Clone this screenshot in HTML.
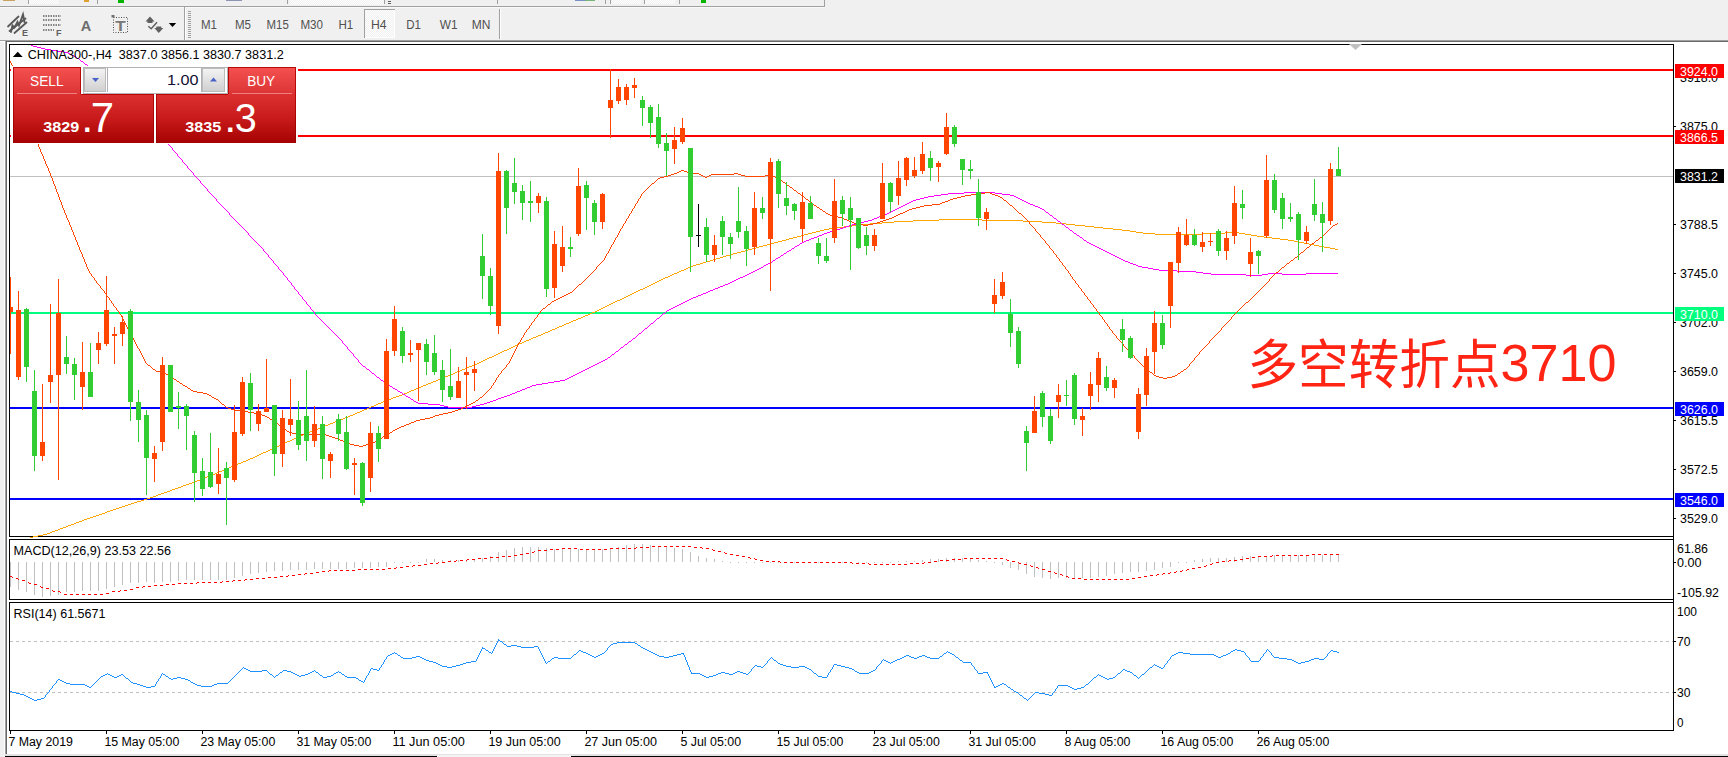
<!DOCTYPE html>
<html lang="zh"><head><meta charset="utf-8"><title>CHINA300-,H4</title>
<style>
html,body{margin:0;padding:0;}
body{width:1728px;height:757px;overflow:hidden;background:#f0f0f0;position:relative;font-family:"Liberation Sans", sans-serif;}
svg{position:absolute;left:0;top:0;display:block;}
.ax{font-size:12px;fill:#000;}
.tb{font-size:12px;fill:#505050;}
.lb{font-size:12px;fill:#fff;}
</style></head><body>
<svg width="1728" height="757" viewBox="0 0 1728 757" font-family='"Liberation Sans", sans-serif'>
<defs>
<linearGradient id="gt" x1="0" y1="0" x2="0" y2="1"><stop offset="0" stop-color="#f45050"/><stop offset="1" stop-color="#dc3434"/></linearGradient>
<linearGradient id="gm" x1="0" y1="0" x2="0" y2="1"><stop offset="0" stop-color="#dc3030"/><stop offset="0.5" stop-color="#c81a1a"/><stop offset="1" stop-color="#a60202"/></linearGradient>
<linearGradient id="gd" x1="0" y1="0" x2="0" y2="1"><stop offset="0" stop-color="#b80808"/><stop offset="1" stop-color="#980000"/></linearGradient>
<linearGradient id="gb" x1="0" y1="0" x2="0" y2="1"><stop offset="0" stop-color="#f4f4f4"/><stop offset="1" stop-color="#cfcfcf"/></linearGradient>
<pattern id="dots" width="2" height="2" patternUnits="userSpaceOnUse"><rect width="2" height="2" fill="#f0f0f0"/><rect width="1" height="1" fill="#fff"/><rect x="1" y="1" width="1" height="1" fill="#fff"/></pattern>
</defs>
<g shape-rendering="crispEdges">
<rect x="0" y="0" width="1728" height="757" fill="#f0f0f0"/>
<rect x="0" y="6" width="825" height="1" fill="#a0a0a0"/>
<rect x="824" y="0" width="1" height="7" fill="#a0a0a0"/>
<rect x="0" y="7" width="825" height="1" fill="#ffffff" opacity="0.6"/>
<rect x="28" y="0" width="1" height="4" fill="#a0a0a0"/>
<rect x="97" y="0" width="1" height="4" fill="#a0a0a0"/>
<rect x="287" y="0" width="1" height="4" fill="#a0a0a0"/>
<rect x="384" y="0" width="1" height="4" fill="#a0a0a0"/>
<rect x="497" y="0" width="1" height="4" fill="#a0a0a0"/>
<rect x="605" y="0" width="1" height="4" fill="#a0a0a0"/>
<rect x="610" y="0" width="1" height="4" fill="#a0a0a0"/>
<rect x="644" y="0" width="1" height="4" fill="#a0a0a0"/>
<rect x="679" y="0" width="1" height="4" fill="#a0a0a0"/>
<rect x="29" y="0" width="30" height="4" fill="url(#dots)"/>
<rect x="290" y="0" width="94" height="5" fill="url(#dots)"/>
<rect x="611" y="0" width="30" height="4" fill="url(#dots)"/>
<rect x="645" y="0" width="30" height="4" fill="url(#dots)"/>
<rect x="118" y="0" width="6" height="3" fill="#00b400"/>
<rect x="701" y="0" width="5" height="3" fill="#00b400"/>
<rect x="84" y="0" width="5" height="2" fill="#e0a030"/>
<rect x="3" y="0" width="12" height="1" fill="#c8a060"/>
<rect x="226" y="0" width="16" height="1" fill="#8c96b4"/>
<rect x="575" y="0" width="10" height="1" fill="#7890c8"/><rect x="585" y="0" width="10" height="1" fill="#78b478"/>
<rect x="388" y="1" width="3" height="1" fill="#606060"/><rect x="388" y="3" width="3" height="1" fill="#606060"/>
<rect x="184" y="7" width="1" height="33" fill="#a0a0a0"/><rect x="185" y="8" width="1" height="32" fill="#ffffff"/>
<rect x="188" y="11" width="3" height="1" fill="#a0a0a0"/>
<rect x="188" y="13" width="3" height="1" fill="#a0a0a0"/>
<rect x="188" y="15" width="3" height="1" fill="#a0a0a0"/>
<rect x="188" y="17" width="3" height="1" fill="#a0a0a0"/>
<rect x="188" y="19" width="3" height="1" fill="#a0a0a0"/>
<rect x="188" y="21" width="3" height="1" fill="#a0a0a0"/>
<rect x="188" y="23" width="3" height="1" fill="#a0a0a0"/>
<rect x="188" y="25" width="3" height="1" fill="#a0a0a0"/>
<rect x="188" y="27" width="3" height="1" fill="#a0a0a0"/>
<rect x="188" y="29" width="3" height="1" fill="#a0a0a0"/>
<rect x="188" y="31" width="3" height="1" fill="#a0a0a0"/>
<rect x="188" y="33" width="3" height="1" fill="#a0a0a0"/>
<rect x="188" y="35" width="3" height="1" fill="#a0a0a0"/>
<rect x="188" y="37" width="3" height="1" fill="#a0a0a0"/>
<rect x="499" y="9" width="1" height="30" fill="#a0a0a0"/><rect x="500" y="9" width="1" height="30" fill="#ffffff"/>
<rect x="364" y="9" width="31" height="29" fill="url(#dots)"/>
<rect x="364" y="9" width="31" height="1" fill="#a0a0a0"/><rect x="364" y="9" width="1" height="29" fill="#a0a0a0"/>
<rect x="394" y="10" width="1" height="28" fill="#ffffff"/><rect x="365" y="37" width="30" height="1" fill="#ffffff"/>
<rect x="0" y="40" width="1728" height="1" fill="#a0a0a0"/>
<rect x="0" y="41" width="5" height="1" fill="#ffffff"/>
<rect x="4" y="41" width="1" height="713" fill="#ffffff"/>
<rect x="5" y="40" width="1723" height="717" fill="#a0a0a0"/>
<rect x="6" y="41" width="1722" height="716" fill="#696969"/>
<rect x="7" y="42" width="1721" height="712" fill="#ffffff"/>
<rect x="5" y="754" width="1723" height="2" fill="#e3e3e3"/>
<rect x="5" y="756" width="1723" height="1" fill="#000000"/>
<rect x="437" y="755" width="134" height="2" fill="#f4f4f4"/>
<rect x="0" y="754" width="5" height="3" fill="#f0f0f0"/>
</g>
<g fill="none" stroke="#606060" stroke-width="1.6" stroke-linecap="round">
<path stroke="#585858" stroke-width="1.8" d="M8 26.5 L18.5 16.5 M9.5 31 L25.5 18.5 M14.5 33 L26.5 22.5"/>
<path stroke="#585858" stroke-width="1.9" d="M11 32 L12.5 25.5 L14.5 27.5 L17.5 22 L19 25.5 L23 14.5 L24.5 22"/>
</g>
<text x="22" y="36" font-size="9" font-weight="bold" fill="#606060">E</text>
<g stroke="#606060" stroke-width="1.6" stroke-dasharray="1.5 1" fill="none">
<path d="M43 16 H61 M43 20 H61 M43 25 H61 M43 30 H54"/></g>
<text x="56" y="36" font-size="9" font-weight="bold" fill="#606060">F</text>
<text x="80.7" y="30.5" font-size="15.5" font-weight="bold" fill="#6c6c6c" textLength="10.5" lengthAdjust="spacingAndGlyphs">A</text>
<rect x="113.5" y="17.5" width="14" height="15" fill="none" stroke="#505050" stroke-width="1" stroke-dasharray="1 1.5"/>
<text x="115.2" y="30.6" font-size="15" font-weight="bold" fill="#787878" textLength="10.5" lengthAdjust="spacingAndGlyphs">T</text>
<rect x="111.5" y="15" width="3" height="2.5" fill="#707070"/>
<g fill="#606060"><path d="M150 16.5 L154.5 21.5 H152.5 V23 H147.5 V21.5 H145.5 Z"/><path d="M158.8 33 L154.3 28 H156.3 V26.5 H161.3 V28 H163.3 Z"/>
<path d="M148.3 26.2 L151.2 28.7 L157 22.2" fill="none" stroke="#606060" stroke-width="1.5"/></g>
<path d="M168.8 23 H176.2 L172.5 27 Z" fill="#000"/>
<text class="tb" x="201.0" y="29" textLength="16.0" lengthAdjust="spacingAndGlyphs">M1</text>
<text class="tb" x="235.0" y="29" textLength="16.0" lengthAdjust="spacingAndGlyphs">M5</text>
<text class="tb" x="266.6" y="29" textLength="22.2" lengthAdjust="spacingAndGlyphs">M15</text>
<text class="tb" x="300.4" y="29" textLength="22.6" lengthAdjust="spacingAndGlyphs">M30</text>
<text class="tb" x="338.4" y="29" textLength="14.8" lengthAdjust="spacingAndGlyphs">H1</text>
<text class="tb" x="371.0" y="29" textLength="15.6" lengthAdjust="spacingAndGlyphs">H4</text>
<text class="tb" x="406.3" y="29" textLength="14.7" lengthAdjust="spacingAndGlyphs">D1</text>
<text class="tb" x="439.7" y="29" textLength="17.8" lengthAdjust="spacingAndGlyphs">W1</text>
<text class="tb" x="471.8" y="29" textLength="18.7" lengthAdjust="spacingAndGlyphs">MN</text>
<g shape-rendering="crispEdges">
<rect x="9" y="44" width="1665" height="1" fill="#000"/>
<rect x="9" y="536" width="1665" height="1" fill="#000"/>
<rect x="9" y="539" width="1665" height="1" fill="#000"/>
<rect x="9" y="599" width="1665" height="1" fill="#000"/>
<rect x="9" y="602" width="1665" height="1" fill="#000"/>
<rect x="9" y="730" width="1665" height="1" fill="#000"/>
<rect x="9" y="44" width="1" height="493" fill="#000"/>
<rect x="9" y="539" width="1" height="61" fill="#000"/>
<rect x="9" y="602" width="1" height="129" fill="#000"/>
<rect x="1673" y="44" width="1" height="687" fill="#000"/>
<rect x="10" y="731" width="1" height="3" fill="#000"/>
<rect x="106" y="731" width="1" height="3" fill="#000"/>
<rect x="202" y="731" width="1" height="3" fill="#000"/>
<rect x="298" y="731" width="1" height="3" fill="#000"/>
<rect x="394" y="731" width="1" height="3" fill="#000"/>
<rect x="490" y="731" width="1" height="3" fill="#000"/>
<rect x="586" y="731" width="1" height="3" fill="#000"/>
<rect x="682" y="731" width="1" height="3" fill="#000"/>
<rect x="778" y="731" width="1" height="3" fill="#000"/>
<rect x="874" y="731" width="1" height="3" fill="#000"/>
<rect x="970" y="731" width="1" height="3" fill="#000"/>
<rect x="1066" y="731" width="1" height="3" fill="#000"/>
<rect x="1162" y="731" width="1" height="3" fill="#000"/>
<rect x="1258" y="731" width="1" height="3" fill="#000"/>
<rect x="1674" y="126" width="2" height="1" fill="#000"/>
<rect x="1674" y="224" width="2" height="1" fill="#000"/>
<rect x="1674" y="273" width="2" height="1" fill="#000"/>
<rect x="1674" y="322" width="2" height="1" fill="#000"/>
<rect x="1674" y="371" width="2" height="1" fill="#000"/>
<rect x="1674" y="420" width="2" height="1" fill="#000"/>
<rect x="1674" y="469" width="2" height="1" fill="#000"/>
<rect x="1674" y="518" width="2" height="1" fill="#000"/>
<rect x="1674" y="562" width="2" height="1" fill="#000"/>
<rect x="1674" y="641" width="2" height="1" fill="#000"/>
<rect x="1674" y="692" width="2" height="1" fill="#000"/>
<rect x="10" y="176" width="1663" height="1" fill="#c0c0c0"/>
<rect x="10" y="69" width="1663" height="2" fill="#ff0000"/>
<rect x="10" y="135" width="1663" height="2" fill="#ff0000"/>
<rect x="10" y="312" width="1663" height="2" fill="#00ff7f"/>
<rect x="10" y="407" width="1663" height="2" fill="#0000ff"/>
<rect x="10" y="498" width="1663" height="2" fill="#0000ff"/>
</g>
<g shape-rendering="crispEdges" stroke="#c0c0c0" stroke-width="1" stroke-dasharray="3 3" fill="none">
<path d="M10 641.5 H1673 M10 692.5 H1673"/></g>
<path d="M1349 44 H1362 L1355.5 50 Z" fill="#c0c0c0"/>
<g shape-rendering="crispEdges">
<path fill="#FFA500" d="M693 265h3v1h-3zM812 232h4v1h-4zM1136 232h7v1h-7zM1225 232h14v1h-14zM462 369h3v1h-3zM894 221h19v1h-19zM1023 221h19v1h-19zM110 510h3v1h-3zM913 220h26v1h-26zM982 220h41v1h-41zM433 381h3v1h-3zM229 467h2v1h-2zM371 406h3v1h-3zM659 280h2v1h-2zM759 246h4v1h-4zM1319 246h5v1h-5zM860 224h10v1h-10zM1066 224h9v1h-9zM808 233h4v1h-4zM1143 233h12v1h-12zM1202 233h23v1h-23zM1239 233h6v1h-6zM748 249h4v1h-4zM1335 249h3v1h-3zM167 491h3v1h-3zM402 394h2v1h-2zM543 333h2v1h-2zM340 419h3v1h-3zM310 431h3v1h-3zM279 445h2v1h-2zM68 525h3v1h-3zM829 228h8v1h-8zM1103 228h10v1h-10zM483 360h2v1h-2zM679 271h2v1h-2zM939 219h43v1h-43zM156 495h2v1h-2zM533 337h3v1h-3zM330 423h3v1h-3zM737 252h4v1h-4zM613 302h2v1h-2zM804 234h4v1h-4zM1155 234h47v1h-47zM1245 234h6v1h-6zM789 238h4v1h-4zM1272 238h8v1h-8zM231 466h3v1h-3zM200 479h3v1h-3zM632 293h2v1h-2zM852 225h8v1h-8zM1075 225h10v1h-10zM281 444h2v1h-2zM455 372h2v1h-2zM102 513h3v1h-3zM485 359h2v1h-2zM628 295h2v1h-2zM681 270h3v1h-3zM423 385h3v1h-3zM713 259h3v1h-3zM362 410h2v1h-2zM651 284h2v1h-2zM824 229h5v1h-5zM1113 229h9v1h-9zM778 241h4v1h-4zM1294 241h5v1h-5zM393 397h3v1h-3zM217 472h2v1h-2zM248 459h2v1h-2zM504 350h3v1h-3zM58 529h2v1h-2zM357 412h3v1h-3zM388 399h3v1h-3zM300 435h3v1h-3zM90 517h3v1h-3zM555 328h2v1h-2zM585 315h3v1h-3zM147 498h3v1h-3zM696 264h4v1h-4zM726 255h4v1h-4zM550 330h2v1h-2zM793 237h4v1h-4zM1264 237h8v1h-8zM581 317h2v1h-2zM605 306h2v1h-2zM820 230h4v1h-4zM1122 230h8v1h-8zM601 308h2v1h-2zM716 258h4v1h-4zM131 503h3v1h-3zM192 482h3v1h-3zM882 222h12v1h-12zM1042 222h14v1h-14zM710 260h3v1h-3zM774 242h4v1h-4zM1299 242h5v1h-5zM93 516h3v1h-3zM837 227h7v1h-7zM1094 227h9v1h-9zM87 518h3v1h-3zM411 390h3v1h-3zM207 476h3v1h-3zM350 415h3v1h-3zM381 402h2v1h-2zM816 231h4v1h-4zM1130 231h6v1h-6zM522 342h2v1h-2zM50 532h2v1h-2zM492 356h2v1h-2zM76 522h3v1h-3zM688 267h2v1h-2zM782 240h4v1h-4zM1288 240h6v1h-6zM573 320h3v1h-3zM38 535h5v1h-5zM844 226h8v1h-8zM1085 226h9v1h-9zM771 243h3v1h-3zM1304 243h5v1h-5zM622 298h2v1h-2zM122 506h3v1h-3zM592 312h3v1h-3zM210 475h2v1h-2zM797 236h4v1h-4zM1257 236h7v1h-7zM640 289h3v1h-3zM730 254h3v1h-3zM79 521h3v1h-3zM261 453h2v1h-2zM465 368h2v1h-2zM756 247h3v1h-3zM1324 247h6v1h-6zM661 279h2v1h-2zM428 383h3v1h-3zM460 370h2v1h-2zM195 481h2v1h-2zM305 433h3v1h-3zM595 311h2v1h-2zM153 496h3v1h-3zM529 339h2v1h-2zM870 223h12v1h-12zM1056 223h10v1h-10zM559 326h3v1h-3zM113 509h3v1h-3zM609 304h2v1h-2zM752 248h4v1h-4zM1330 248h5v1h-5zM404 393h3v1h-3zM197 480h3v1h-3zM720 257h3v1h-3zM421 386h2v1h-2zM186 484h3v1h-3zM531 338h2v1h-2zM328 424h2v1h-2zM60 528h3v1h-3zM360 411h2v1h-2zM649 285h2v1h-2zM733 253h4v1h-4zM298 436h2v1h-2zM801 235h3v1h-3zM1251 235h6v1h-6zM502 351h2v1h-2zM55 530h3v1h-3zM472 365h2v1h-2zM144 499h3v1h-3zM668 276h2v1h-2zM318 428h2v1h-2zM552 329h3v1h-3zM99 514h3v1h-3zM219 471h3v1h-3zM270 449h2v1h-2zM474 364h3v1h-3zM700 263h3v1h-3zM670 275h2v1h-2zM178 487h3v1h-3zM767 244h4v1h-4zM1309 244h5v1h-5zM443 377h2v1h-2zM205 477h2v1h-2zM320 427h3v1h-3zM236 464h2v1h-2zM47 533h3v1h-3zM290 440h2v1h-2zM134 502h3v1h-3zM690 266h3v1h-3zM33 536h5v1h-5zM538 335h3v1h-3zM569 322h2v1h-2zM509 348h2v1h-2zM107 511h3v1h-3zM257 455h2v1h-2zM164 492h3v1h-3zM399 395h3v1h-3zM338 420h2v1h-2zM431 382h2v1h-2zM369 407h2v1h-2zM657 281h2v1h-2zM511 347h2v1h-2zM745 250h3v1h-3zM677 272h2v1h-2zM611 303h2v1h-2zM630 294h2v1h-2zM453 373h2v1h-2zM391 398h2v1h-2zM448 375h2v1h-2zM294 438h2v1h-2zM583 316h2v1h-2zM498 353h2v1h-2zM376 404h2v1h-2zM517 344h2v1h-2zM43 534h4v1h-4zM548 331h2v1h-2zM250 458h3v1h-3zM647 286h2v1h-2zM617 300h3v1h-3zM266 451h2v1h-2zM786 239h3v1h-3zM1280 239h8v1h-8zM469 366h3v1h-3zM409 391h2v1h-2zM440 378h3v1h-3zM378 403h3v1h-3zM665 277h3v1h-3zM519 343h3v1h-3zM315 429h3v1h-3zM348 416h2v1h-2zM74 523h2v1h-2zM763 245h4v1h-4zM1314 245h5v1h-5zM620 299h2v1h-2zM119 507h3v1h-3zM238 463h3v1h-3zM638 290h2v1h-2zM287 441h3v1h-3zM308 432h2v1h-2zM224 469h2v1h-2zM66 526h2v1h-2zM274 447h2v1h-2zM562 325h2v1h-2zM557 327h2v1h-2zM723 256h3v1h-3zM607 305h2v1h-2zM626 296h2v1h-2zM479 362h2v1h-2zM246 460h2v1h-2zM183 485h3v1h-3zM325 425h3v1h-3zM419 387h2v1h-2zM706 261h4v1h-4zM578 318h3v1h-3zM128 504h3v1h-3zM450 374h3v1h-3zM599 309h2v1h-2zM30 537h3v1h-3zM175 488h3v1h-3zM268 450h2v1h-2zM313 430h2v1h-2zM571 321h2v1h-2zM487 358h2v1h-2zM541 334h2v1h-2zM536 336h2v1h-2zM259 454h2v1h-2zM255 456h2v1h-2zM457 371h3v1h-3zM396 396h3v1h-3zM741 251h4v1h-4zM335 421h3v1h-3zM588 314h2v1h-2zM674 273h3v1h-3zM226 468h3v1h-3zM276 446h3v1h-3zM96 515h3v1h-3zM481 361h2v1h-2zM296 437h2v1h-2zM500 352h2v1h-2zM52 531h3v1h-3zM141 500h3v1h-3zM576 319h2v1h-2zM125 505h3v1h-3zM467 367h2v1h-2zM234 465h2v1h-2zM263 452h3v1h-3zM172 489h3v1h-3zM407 392h2v1h-2zM345 417h3v1h-3zM283 443h2v1h-2zM684 269h2v1h-2zM566 323h3v1h-3zM161 493h3v1h-3zM116 508h3v1h-3zM636 291h2v1h-2zM285 442h2v1h-2zM489 357h3v1h-3zM686 268h2v1h-2zM367 408h2v1h-2zM655 282h2v1h-2zM63 527h3v1h-3zM590 313h2v1h-2zM524 341h2v1h-2zM445 376h3v1h-3zM477 363h2v1h-2zM416 388h3v1h-3zM703 262h3v1h-3zM212 474h3v1h-3zM385 400h3v1h-3zM181 486h2v1h-2zM323 426h2v1h-2zM496 354h2v1h-2zM82 520h2v1h-2zM137 501h4v1h-4zM663 278h2v1h-2zM545 332h3v1h-3zM597 310h2v1h-2zM215 473h2v1h-2zM645 287h2v1h-2zM438 379h2v1h-2zM564 324h2v1h-2zM253 457h2v1h-2zM158 494h3v1h-3zM333 422h2v1h-2zM364 409h3v1h-3zM653 283h2v1h-2zM272 448h2v1h-2zM672 274h2v1h-2zM355 413h2v1h-2zM150 497h3v1h-3zM526 340h3v1h-3zM513 346h2v1h-2zM84 519h3v1h-3zM615 301h2v1h-2zM203 478h2v1h-2zM634 292h2v1h-2zM426 384h2v1h-2zM303 434h2v1h-2zM507 349h2v1h-2zM105 512h2v1h-2zM603 307h2v1h-2zM241 462h2v1h-2zM494 355h2v1h-2zM243 461h3v1h-3zM643 288h2v1h-2zM292 439h2v1h-2zM170 490h2v1h-2zM343 418h2v1h-2zM436 380h2v1h-2zM374 405h2v1h-2zM515 345h2v1h-2zM71 524h3v1h-3zM189 483h3v1h-3zM222 470h2v1h-2zM414 389h2v1h-2zM383 401h2v1h-2zM353 414h2v1h-2zM624 297h2v1h-2z"/>
<path fill="#FF00FF" d="M889 212h2v1h-2zM1046 212h2v1h-2zM948 193h16v1h-16zM995 193h7v1h-7zM747 274h2v1h-2zM1211 274h35v1h-35zM1262 274h6v1h-6zM1282 274h24v1h-24zM512 393h3v1h-3zM403 394h2v1h-2zM510 394h2v1h-2zM681 303h2v1h-2zM822 234h2v1h-2zM589 367h2v1h-2zM768 263h2v1h-2zM1130 263h3v1h-3zM909 202h2v1h-2zM1026 202h2v1h-2zM885 214h2v1h-2zM587 368h2v1h-2zM789 250h2v1h-2zM1103 250h2v1h-2zM377 377h2v1h-2zM569 377h2v1h-2zM400 392h2v1h-2zM515 392h2v1h-2zM701 294h2v1h-2zM1107 252h2v1h-2zM732 281h2v1h-2zM1125 261h3v1h-3zM751 272h2v1h-2zM1196 272h7v1h-7zM428 404h12v1h-12zM480 404h4v1h-4zM107 85h2v1h-2zM77 58h2v1h-2zM70 54h2v1h-2zM911 201h2v1h-2zM1024 201h2v1h-2zM924 197h4v1h-4zM1016 197h2v1h-2zM406 396h2v1h-2zM504 396h3v1h-3zM749 273h2v1h-2zM1203 273h8v1h-8zM1268 273h14v1h-14zM1306 273h32v1h-32zM593 365h2v1h-2zM824 233h3v1h-3zM1074 233h2v1h-2zM770 262h2v1h-2zM1128 262h2v1h-2zM390 386h2v1h-2zM530 386h2v1h-2zM1097 247h2v1h-2zM448 407h24v1h-24zM903 205h2v1h-2zM1033 205h2v1h-2zM398 391h2v1h-2zM517 391h3v1h-3zM595 364h2v1h-2zM860 222h4v1h-4zM31 45h2v1h-2zM882 215h3v1h-3zM1050 215h2v1h-2zM608 357h2v1h-2zM1091 244h2v1h-2zM877 217h2v1h-2zM901 206h2v1h-2zM1035 206h3v1h-3zM809 239h2v1h-2zM920 198h4v1h-4zM1018 198h2v1h-2zM766 264h2v1h-2zM1133 264h3v1h-3zM669 309h2v1h-2zM718 287h2v1h-2zM897 208h2v1h-2zM1040 208h2v1h-2zM753 271h2v1h-2zM1177 271h19v1h-19zM703 293h3v1h-3zM629 341h2v1h-2zM411 399h2v1h-2zM496 399h2v1h-2zM797 245h2v1h-2zM1093 245h2v1h-2zM385 383h2v1h-2zM542 383h6v1h-6zM414 401h2v1h-2zM490 401h3v1h-3zM738 278h2v1h-2zM548 382h6v1h-6zM581 371h2v1h-2zM814 237h3v1h-3zM1080 237h2v1h-2zM843 227h3v1h-3zM1066 227h2v1h-2zM764 265h2v1h-2zM1136 265h2v1h-2zM899 207h2v1h-2zM1038 207h2v1h-2zM928 196h6v1h-6zM1014 196h2v1h-2zM776 258h2v1h-2zM1119 258h2v1h-2zM645 328h2v1h-2zM381 380h2v1h-2zM560 380h5v1h-5zM916 199h4v1h-4zM1020 199h2v1h-2zM393 388h2v1h-2zM525 388h2v1h-2zM408 397h2v1h-2zM501 397h3v1h-3zM493 400h3v1h-3zM856 223h4v1h-4zM740 277h3v1h-3zM710 290h3v1h-3zM583 370h2v1h-2zM745 275h2v1h-2zM1246 275h16v1h-16zM852 224h4v1h-4zM1062 224h2v1h-2zM757 269h2v1h-2zM1153 269h6v1h-6zM964 192h31v1h-31zM795 246h2v1h-2zM1095 246h2v1h-2zM601 361h2v1h-2zM625 344h2v1h-2zM907 203h2v1h-2zM1028 203h2v1h-2zM833 230h3v1h-3zM1070 230h2v1h-2zM708 291h2v1h-2zM68 53h2v1h-2zM663 313h2v1h-2zM802 242h2v1h-2zM1087 242h2v1h-2zM891 211h2v1h-2zM51 50h6v1h-6zM395 389h2v1h-2zM522 389h3v1h-3zM887 213h2v1h-2zM633 338h2v1h-2zM1138 266h4v1h-4zM1111 254h2v1h-2zM728 283h2v1h-2zM761 267h2v1h-2zM1142 267h6v1h-6zM773 260h2v1h-2zM1123 260h2v1h-2zM571 376h2v1h-2zM527 387h3v1h-3zM819 235h3v1h-3zM1077 235h2v1h-2zM372 373h2v1h-2zM577 373h2v1h-2zM573 375h2v1h-2zM532 385h4v1h-4zM706 292h2v1h-2zM689 299h2v1h-2zM720 286h3v1h-3zM363 366h2v1h-2zM591 366h2v1h-2zM755 270h2v1h-2zM1159 270h18v1h-18zM792 248h2v1h-2zM1099 248h2v1h-2zM45 49h6v1h-6zM621 347h2v1h-2zM804 241h2v1h-2zM554 381h6v1h-6zM444 406h4v1h-4zM472 406h4v1h-4zM806 240h3v1h-3zM1084 240h2v1h-2zM811 238h3v1h-3zM759 268h2v1h-2zM1148 268h5v1h-5zM868 220h4v1h-4zM657 318h2v1h-2zM941 194h7v1h-7zM1002 194h8v1h-8zM677 305h2v1h-2zM846 226h3v1h-3zM579 372h2v1h-2zM913 200h3v1h-3zM1022 200h2v1h-2zM698 295h3v1h-3zM599 362h2v1h-2zM696 296h2v1h-2zM1121 259h2v1h-2zM1115 256h2v1h-2zM872 219h2v1h-2zM800 243h2v1h-2zM1089 243h2v1h-2zM41 48h4v1h-4zM893 210h2v1h-2zM879 216h3v1h-3zM1101 249h2v1h-2zM671 308h2v1h-2zM667 310h2v1h-2zM387 384h2v1h-2zM536 384h6v1h-6zM715 288h3v1h-3zM639 333h2v1h-2zM616 351h2v1h-2zM565 379h2v1h-2zM864 221h4v1h-4zM1058 221h2v1h-2zM840 228h3v1h-3zM72 55h2v1h-2zM74 56h2v1h-2zM64 52h4v1h-4zM440 405h4v1h-4zM476 405h4v1h-4zM778 257h2v1h-2zM1117 257h2v1h-2zM934 195h7v1h-7zM1010 195h4v1h-4zM830 231h3v1h-3zM685 301h2v1h-2zM693 297h3v1h-3zM612 354h2v1h-2zM784 253h2v1h-2zM1109 253h2v1h-2zM57 51h7v1h-7zM418 403h10v1h-10zM484 403h3v1h-3zM498 398h3v1h-3zM874 218h3v1h-3zM1054 218h2v1h-2zM687 300h2v1h-2zM37 47h4v1h-4zM85 64h2v1h-2zM734 280h2v1h-2zM148 125h2v1h-2zM651 323h2v1h-2zM781 255h2v1h-2zM1113 255h2v1h-2zM787 251h2v1h-2zM1105 251h2v1h-2zM81 61h2v1h-2zM827 232h3v1h-3zM605 359h2v1h-2zM725 284h3v1h-3zM683 302h2v1h-2zM520 390h2v1h-2zM736 279h2v1h-2zM597 363h2v1h-2zM743 276h2v1h-2zM905 204h2v1h-2zM1030 204h3v1h-3zM895 209h2v1h-2zM1042 209h2v1h-2zM673 307h2v1h-2zM723 285h2v1h-2zM367 369h2v1h-2zM585 369h2v1h-2zM567 378h2v1h-2zM416 402h2v1h-2zM487 402h3v1h-3zM849 225h3v1h-3zM836 229h4v1h-4zM679 304h2v1h-2zM575 374h2v1h-2zM691 298h2v1h-2zM603 360h2v1h-2zM507 395h3v1h-3zM675 306h2v1h-2zM817 236h2v1h-2zM713 289h2v1h-2zM33 46h4v1h-4zM730 282h2v1h-2zM76 57h1v1h-1zM79 59h1v1h-1zM80 60h1v1h-1zM83 62h1v1h-1zM84 63h1v1h-1zM87 65h1v1h-1zM88 66h1v1h-1zM89 67h1v1h-1zM90 68h1v1h-1zM91 69h1v1h-1zM92 70h1v1h-1zM93 71h1v1h-1zM94 72h1v1h-1zM95 73h1v1h-1zM96 74h1v1h-1zM97 75h1v1h-1zM98 76h1v1h-1zM99 77h1v1h-1zM100 78h1v1h-1zM101 79h1v1h-1zM102 80h1v1h-1zM103 81h1v1h-1zM104 82h1v1h-1zM105 83h1v1h-1zM106 84h1v1h-1zM109 86h1v1h-1zM110 87h1v1h-1zM111 88h1v1h-1zM112 89h1v1h-1zM113 90h1v1h-1zM114 91h1v1h-1zM115 92h1v1h-1zM116 93h1v1h-1zM117 94h1v1h-1zM118 95h1v1h-1zM119 96h1v1h-1zM120 97h1v1h-1zM121 98h1v1h-1zM122 99h1v1h-1zM123 100h1v1h-1zM124 101h1v1h-1zM125 102h1v1h-1zM126 103h1v1h-1zM127 104h1v1h-1zM128 105h1v1h-1zM129 106h1v1h-1zM130 107h1v1h-1zM131 108h1v1h-1zM132 109h1v1h-1zM133 110h1v1h-1zM134 111h1v1h-1zM135 112h1v1h-1zM136 113h1v1h-1zM137 114h1v1h-1zM138 115h1v1h-1zM139 116h1v1h-1zM140 117h1v1h-1zM141 118h1v1h-1zM142 119h1v1h-1zM143 120h1v1h-1zM144 121h1v1h-1zM145 122h1v1h-1zM146 123h1v1h-1zM147 124h1v1h-1zM150 126h1v1h-1zM151 127h1v1h-1zM152 128h1v1h-1zM153 129h1v1h-1zM154 130h1v1h-1zM155 131h1v1h-1zM156 132h1v1h-1zM157 133h1v1h-1zM158 134h1v1h-1zM159 135h1v1h-1zM160 136h1v1h-1zM161 137h1v1h-1zM162 138h1v1h-1zM163 139h1v1h-1zM164 140h1v1h-1zM165 141h1v1h-1zM166 142h1v1h-1zM167 143h1v1h-1zM168 144h1v1h-1zM169 145h1v1h-1zM170 146h1v1h-1zM171 147h1v1h-1zM172 148h1v2h-1zM173 150h1v1h-1zM174 151h1v1h-1zM175 152h1v1h-1zM176 153h1v1h-1zM177 154h1v2h-1zM178 156h1v1h-1zM179 157h1v1h-1zM180 158h1v1h-1zM181 159h1v1h-1zM182 160h1v2h-1zM183 162h1v1h-1zM184 163h1v1h-1zM185 164h1v1h-1zM186 165h1v1h-1zM187 166h1v2h-1zM188 168h1v1h-1zM189 169h1v1h-1zM190 170h1v1h-1zM191 171h1v1h-1zM192 172h1v1h-1zM193 173h1v2h-1zM194 175h1v1h-1zM195 176h1v1h-1zM196 177h1v1h-1zM197 178h1v1h-1zM198 179h1v1h-1zM199 180h1v1h-1zM200 181h1v2h-1zM201 183h1v1h-1zM202 184h1v1h-1zM203 185h1v1h-1zM204 186h1v1h-1zM205 187h1v1h-1zM206 188h1v1h-1zM207 189h1v2h-1zM208 191h1v1h-1zM209 192h1v1h-1zM210 193h1v1h-1zM211 194h1v1h-1zM212 195h1v1h-1zM213 196h1v1h-1zM214 197h1v1h-1zM215 198h1v1h-1zM216 199h1v2h-1zM217 201h1v1h-1zM218 202h1v1h-1zM219 203h1v1h-1zM220 204h1v1h-1zM221 205h1v1h-1zM222 206h1v1h-1zM223 207h1v1h-1zM224 208h1v1h-1zM225 209h1v1h-1zM226 210h1v1h-1zM227 211h1v1h-1zM228 212h1v1h-1zM229 213h1v2h-1zM230 215h1v1h-1zM231 216h1v1h-1zM232 217h1v1h-1zM233 218h1v1h-1zM234 219h1v1h-1zM235 220h1v1h-1zM236 221h1v1h-1zM237 222h1v1h-1zM238 223h1v1h-1zM239 224h1v1h-1zM240 225h1v1h-1zM241 226h1v1h-1zM242 227h1v1h-1zM243 228h1v1h-1zM244 229h1v1h-1zM245 230h1v1h-1zM246 231h1v1h-1zM247 232h1v1h-1zM248 233h1v2h-1zM249 235h1v1h-1zM250 236h1v1h-1zM251 237h1v1h-1zM252 238h1v1h-1zM253 239h1v1h-1zM254 240h1v1h-1zM255 241h1v1h-1zM256 242h1v1h-1zM257 243h1v1h-1zM258 244h1v1h-1zM259 245h1v1h-1zM260 246h1v1h-1zM261 247h1v1h-1zM262 248h1v1h-1zM263 249h1v2h-1zM264 251h1v1h-1zM265 252h1v1h-1zM266 253h1v1h-1zM267 254h1v1h-1zM268 255h1v2h-1zM269 257h1v1h-1zM270 258h1v1h-1zM271 259h1v1h-1zM272 260h1v1h-1zM273 261h1v2h-1zM274 263h1v1h-1zM275 264h1v1h-1zM276 265h1v1h-1zM277 266h1v1h-1zM278 267h1v2h-1zM279 269h1v1h-1zM280 270h1v1h-1zM281 271h1v1h-1zM282 272h1v1h-1zM283 273h1v2h-1zM284 275h1v1h-1zM285 276h1v1h-1zM286 277h1v1h-1zM287 278h1v2h-1zM288 280h1v1h-1zM289 281h1v1h-1zM290 282h1v1h-1zM291 283h1v2h-1zM292 285h1v1h-1zM293 286h1v1h-1zM294 287h1v2h-1zM295 289h1v1h-1zM296 290h1v1h-1zM297 291h1v1h-1zM298 292h1v2h-1zM299 294h1v1h-1zM300 295h1v1h-1zM301 296h1v1h-1zM302 297h1v2h-1zM303 299h1v1h-1zM304 300h1v1h-1zM305 301h1v1h-1zM306 302h1v2h-1zM307 304h1v1h-1zM308 305h1v1h-1zM309 306h1v1h-1zM310 307h1v2h-1zM311 309h1v1h-1zM312 310h1v1h-1zM313 311h1v1h-1zM314 312h1v2h-1zM315 314h1v1h-1zM316 315h1v1h-1zM317 316h1v1h-1zM318 317h1v1h-1zM319 318h1v1h-1zM320 319h1v1h-1zM321 320h1v1h-1zM322 321h1v1h-1zM323 322h1v1h-1zM324 323h1v1h-1zM325 324h1v1h-1zM326 325h1v1h-1zM327 326h1v1h-1zM328 327h1v1h-1zM329 328h1v1h-1zM330 329h1v1h-1zM331 330h1v1h-1zM332 331h1v1h-1zM333 332h1v1h-1zM334 333h1v1h-1zM335 334h1v1h-1zM336 335h1v1h-1zM337 336h1v1h-1zM338 337h1v1h-1zM339 338h1v1h-1zM340 339h1v1h-1zM341 340h1v1h-1zM342 341h1v2h-1zM343 343h1v1h-1zM344 344h1v1h-1zM345 345h1v1h-1zM346 346h1v1h-1zM347 347h1v2h-1zM348 349h1v1h-1zM349 350h1v1h-1zM350 351h1v1h-1zM351 352h1v1h-1zM352 353h1v1h-1zM353 354h1v2h-1zM354 356h1v1h-1zM355 357h1v1h-1zM356 358h1v1h-1zM357 359h1v1h-1zM358 360h1v2h-1zM359 362h1v1h-1zM360 363h1v1h-1zM361 364h1v1h-1zM362 365h1v1h-1zM365 367h1v1h-1zM366 368h1v1h-1zM369 370h1v1h-1zM370 371h1v1h-1zM371 372h1v1h-1zM374 374h1v1h-1zM375 375h1v1h-1zM376 376h1v1h-1zM379 378h1v1h-1zM380 379h1v1h-1zM383 381h1v1h-1zM384 382h1v1h-1zM389 385h1v1h-1zM392 387h1v1h-1zM397 390h1v1h-1zM402 393h1v1h-1zM405 395h1v1h-1zM410 398h1v1h-1zM413 400h1v1h-1zM607 358h1v1h-1zM610 356h1v1h-1zM611 355h1v1h-1zM614 353h1v1h-1zM615 352h1v1h-1zM618 350h1v1h-1zM619 349h1v1h-1zM620 348h1v1h-1zM623 346h1v1h-1zM624 345h1v1h-1zM627 343h1v1h-1zM628 342h1v1h-1zM631 340h1v1h-1zM632 339h1v1h-1zM635 337h1v1h-1zM636 336h1v1h-1zM637 335h1v1h-1zM638 334h1v1h-1zM641 332h1v1h-1zM642 331h1v1h-1zM643 330h1v1h-1zM644 329h1v1h-1zM647 327h1v1h-1zM648 326h1v1h-1zM649 325h1v1h-1zM650 324h1v1h-1zM653 322h1v1h-1zM654 321h1v1h-1zM655 320h1v1h-1zM656 319h1v1h-1zM659 317h1v1h-1zM660 316h1v1h-1zM661 315h1v1h-1zM662 314h1v1h-1zM665 312h1v1h-1zM666 311h1v1h-1zM763 266h1v1h-1zM772 261h1v1h-1zM775 259h1v1h-1zM780 256h1v1h-1zM783 254h1v1h-1zM786 252h1v1h-1zM791 249h1v1h-1zM794 247h1v1h-1zM799 244h1v1h-1zM1044 210h1v1h-1zM1045 211h1v1h-1zM1048 213h1v1h-1zM1049 214h1v1h-1zM1052 216h1v1h-1zM1053 217h1v1h-1zM1056 219h1v1h-1zM1057 220h1v1h-1zM1060 222h1v1h-1zM1061 223h1v1h-1zM1064 225h1v1h-1zM1065 226h1v1h-1zM1068 228h1v1h-1zM1069 229h1v1h-1zM1072 231h1v1h-1zM1073 232h1v1h-1zM1076 234h1v1h-1zM1079 236h1v1h-1zM1082 238h1v1h-1zM1083 239h1v1h-1zM1086 241h1v1h-1z"/>
<path fill="#FF4500" d="M802 196h2v1h-2zM961 196h4v1h-4zM998 196h2v1h-2zM185 386h2v1h-2zM671 174h3v1h-3zM699 174h2v1h-2zM711 174h23v1h-23zM738 174h3v1h-3zM262 415h3v1h-3zM435 415h4v1h-4zM858 224h5v1h-5zM868 224h5v1h-5zM1335 224h2v1h-2zM1320 237h2v1h-2zM148 365h2v1h-2zM940 203h2v1h-2zM830 215h4v1h-4zM896 215h2v1h-2zM240 411h8v1h-8zM452 411h3v1h-3zM197 392h6v1h-6zM932 204h8v1h-8zM1159 377h4v1h-4zM1167 377h5v1h-5zM425 418h5v1h-5zM558 298h2v1h-2zM548 304h2v1h-2zM393 430h2v1h-2zM248 412h6v1h-6zM448 412h4v1h-4zM844 219h3v1h-3zM886 219h3v1h-3zM828 214h2v1h-2zM898 214h2v1h-2zM289 432h3v1h-3zM390 432h2v1h-2zM222 404h2v1h-2zM469 404h2v1h-2zM298 434h28v1h-28zM409 423h2v1h-2zM335 438h3v1h-3zM380 438h2v1h-2zM467 405h2v1h-2zM863 225h5v1h-5zM1333 225h2v1h-2zM814 205h2v1h-2zM924 205h8v1h-8zM1010 205h2v1h-2zM345 442h3v1h-3zM373 442h2v1h-2zM668 175h3v1h-3zM701 175h2v1h-2zM709 175h2v1h-2zM741 175h4v1h-4zM765 175h6v1h-6zM948 200h2v1h-2zM1004 200h2v1h-2zM920 206h4v1h-4zM270 419h2v1h-2zM420 419h5v1h-5zM664 176h4v1h-4zM703 176h2v1h-2zM707 176h2v1h-2zM745 176h20v1h-20zM771 176h4v1h-4zM658 178h2v1h-2zM810 202h2v1h-2zM942 202h3v1h-3zM674 173h3v1h-3zM693 173h6v1h-6zM734 173h4v1h-4zM787 185h2v1h-2zM817 207h2v1h-2zM916 207h4v1h-4zM203 393h4v1h-4zM823 211h2v1h-2zM905 211h2v1h-2zM854 223h4v1h-4zM873 223h4v1h-4zM957 197h4v1h-4zM1000 197h2v1h-2zM1316 240h2v1h-2zM847 220h2v1h-2zM883 220h3v1h-3zM354 445h5v1h-5zM363 445h3v1h-3zM329 436h3v1h-3zM383 436h2v1h-2zM207 394h2v1h-2zM660 177h4v1h-4zM705 177h2v1h-2zM775 177h2v1h-2zM681 170h3v1h-3zM292 433h6v1h-6zM388 433h2v1h-2zM267 417h2v1h-2zM430 417h3v1h-3zM677 172h2v1h-2zM687 172h6v1h-6zM401 426h3v1h-3zM838 217h4v1h-4zM892 217h2v1h-2zM679 171h2v1h-2zM684 171h3v1h-3zM235 410h5v1h-5zM455 410h3v1h-3zM783 182h2v1h-2zM570 292h2v1h-2zM174 379h2v1h-2zM254 413h4v1h-4zM443 413h5v1h-5zM566 294h2v1h-2zM332 437h3v1h-3zM790 187h2v1h-2zM265 416h2v1h-2zM433 416h2v1h-2zM806 199h2v1h-2zM950 199h3v1h-3zM164 373h2v1h-2zM1178 373h2v1h-2zM1295 257h2v1h-2zM912 208h4v1h-4zM1307 247h2v1h-2zM166 374h2v1h-2zM907 210h2v1h-2zM798 193h2v1h-2zM979 193h6v1h-6zM990 193h2v1h-2zM343 441h2v1h-2zM375 441h2v1h-2zM1276 272h2v1h-2zM177 381h2v1h-2zM985 192h5v1h-5zM212 397h2v1h-2zM480 397h2v1h-2zM275 422h2v1h-2zM411 422h3v1h-3zM965 195h6v1h-6zM995 195h3v1h-3zM272 420h2v1h-2zM416 420h4v1h-4zM465 406h2v1h-2zM1291 260h2v1h-2zM579 284h2v1h-2zM834 216h4v1h-4zM894 216h2v1h-2zM283 428h2v1h-2zM397 428h2v1h-2zM1154 375h2v1h-2zM1175 375h2v1h-2zM226 407h2v1h-2zM463 407h2v1h-2zM556 299h2v1h-2zM903 212h2v1h-2zM562 296h2v1h-2zM160 372h4v1h-4zM1150 372h2v1h-2zM1246 302h2v1h-2zM476 400h2v1h-2zM172 378h2v1h-2zM1163 378h4v1h-4zM820 209h2v1h-2zM909 209h3v1h-3zM183 385h2v1h-2zM794 190h2v1h-2zM842 218h2v1h-2zM889 218h3v1h-3zM953 198h4v1h-4zM971 194h8v1h-8zM992 194h3v1h-3zM564 295h2v1h-2zM778 179h2v1h-2zM852 222h2v1h-2zM877 222h3v1h-3zM348 443h2v1h-2zM370 443h3v1h-3zM554 300h2v1h-2zM359 446h4v1h-4zM780 180h2v1h-2zM1312 243h2v1h-2zM826 213h2v1h-2zM900 213h3v1h-3zM1019 213h2v1h-2zM193 391h4v1h-4zM1282 267h2v1h-2zM279 425h2v1h-2zM404 425h2v1h-2zM156 371h4v1h-4zM1181 371h2v1h-2zM231 409h4v1h-4zM458 409h3v1h-3zM552 301h2v1h-2zM258 414h4v1h-4zM439 414h4v1h-4zM1144 367h2v1h-2zM849 221h3v1h-3zM880 221h3v1h-3zM287 431h2v1h-2zM652 183h2v1h-2zM326 435h3v1h-3zM385 435h2v1h-2zM191 390h2v1h-2zM209 395h2v1h-2zM945 201h3v1h-3zM188 388h2v1h-2zM399 427h2v1h-2zM350 444h4v1h-4zM366 444h4v1h-4zM338 439h2v1h-2zM1287 263h2v1h-2zM568 293h2v1h-2zM169 376h2v1h-2zM1156 376h3v1h-3zM1172 376h3v1h-3zM153 369h2v1h-2zM1184 369h2v1h-2zM406 424h3v1h-3zM180 383h2v1h-2zM216 399h2v1h-2zM1301 252h2v1h-2zM471 403h2v1h-2zM340 440h3v1h-3zM377 440h2v1h-2zM473 402h2v1h-2zM560 297h2v1h-2zM214 398h2v1h-2zM543 308h2v1h-2zM228 408h3v1h-3zM461 408h2v1h-2zM395 429h2v1h-2zM414 421h2v1h-2zM10 61h1v2h-1zM11 63h1v2h-1zM12 65h1v3h-1zM13 68h1v3h-1zM14 71h1v3h-1zM15 74h1v3h-1zM16 77h1v3h-1zM17 80h1v3h-1zM18 83h1v3h-1zM19 86h1v3h-1zM20 89h1v3h-1zM21 92h1v3h-1zM22 95h1v3h-1zM23 98h1v3h-1zM24 101h1v3h-1zM25 104h1v4h-1zM26 108h1v3h-1zM27 111h1v3h-1zM28 114h1v3h-1zM29 117h1v3h-1zM30 120h1v3h-1zM31 123h1v3h-1zM32 126h1v3h-1zM33 129h1v3h-1zM34 132h1v3h-1zM35 135h1v3h-1zM36 138h1v3h-1zM37 141h1v3h-1zM38 144h1v3h-1zM39 147h1v2h-1zM40 149h1v3h-1zM41 152h1v2h-1zM42 154h1v2h-1zM43 156h1v3h-1zM44 159h1v2h-1zM45 161h1v3h-1zM46 164h1v2h-1zM47 166h1v2h-1zM48 168h1v3h-1zM49 171h1v2h-1zM50 173h1v3h-1zM51 176h1v2h-1zM52 178h1v3h-1zM53 181h1v3h-1zM54 184h1v2h-1zM55 186h1v3h-1zM56 189h1v3h-1zM57 192h1v2h-1zM58 194h1v3h-1zM59 197h1v3h-1zM60 200h1v2h-1zM61 202h1v3h-1zM62 205h1v3h-1zM63 208h1v2h-1zM64 210h1v3h-1zM65 213h1v2h-1zM66 215h1v3h-1zM67 218h1v2h-1zM68 220h1v2h-1zM69 222h1v3h-1zM70 225h1v2h-1zM71 227h1v3h-1zM72 230h1v2h-1zM73 232h1v3h-1zM74 235h1v2h-1zM75 237h1v3h-1zM76 240h1v2h-1zM77 242h1v3h-1zM78 245h1v2h-1zM79 247h1v3h-1zM80 250h1v2h-1zM81 252h1v2h-1zM82 254h1v3h-1zM83 257h1v2h-1zM84 259h1v3h-1zM85 262h1v2h-1zM86 264h1v3h-1zM87 267h1v2h-1zM88 269h1v2h-1zM89 271h1v2h-1zM90 273h1v1h-1zM91 274h1v2h-1zM92 276h1v1h-1zM93 277h1v1h-1zM94 278h1v2h-1zM95 280h1v1h-1zM96 281h1v2h-1zM97 283h1v1h-1zM98 284h1v1h-1zM99 285h1v1h-1zM100 286h1v2h-1zM101 288h1v1h-1zM102 289h1v1h-1zM103 290h1v1h-1zM104 291h1v2h-1zM105 293h1v1h-1zM106 294h1v2h-1zM107 296h1v1h-1zM108 297h1v1h-1zM109 298h1v2h-1zM110 300h1v1h-1zM111 301h1v2h-1zM112 303h1v1h-1zM113 304h1v2h-1zM114 306h1v1h-1zM115 307h1v1h-1zM116 308h1v2h-1zM117 310h1v1h-1zM118 311h1v1h-1zM119 312h1v2h-1zM120 314h1v1h-1zM121 315h1v2h-1zM122 317h1v2h-1zM123 319h1v2h-1zM124 321h1v2h-1zM125 323h1v2h-1zM126 325h1v2h-1zM127 327h1v2h-1zM128 329h1v2h-1zM129 331h1v2h-1zM130 333h1v1h-1zM131 334h1v2h-1zM132 336h1v2h-1zM133 338h1v2h-1zM134 340h1v2h-1zM135 342h1v2h-1zM136 344h1v2h-1zM137 346h1v2h-1zM138 348h1v1h-1zM139 349h1v2h-1zM140 351h1v2h-1zM141 353h1v2h-1zM142 355h1v2h-1zM143 357h1v2h-1zM144 359h1v2h-1zM145 361h1v2h-1zM146 363h1v1h-1zM147 364h1v1h-1zM150 366h1v1h-1zM151 367h1v1h-1zM152 368h1v1h-1zM155 370h1v1h-1zM168 375h1v1h-1zM171 377h1v1h-1zM176 380h1v1h-1zM179 382h1v1h-1zM182 384h1v1h-1zM187 387h1v1h-1zM190 389h1v1h-1zM211 396h1v1h-1zM218 400h1v1h-1zM219 401h1v1h-1zM220 402h1v1h-1zM221 403h1v1h-1zM224 405h1v1h-1zM225 406h1v1h-1zM269 418h1v1h-1zM274 421h1v1h-1zM277 423h1v1h-1zM278 424h1v1h-1zM281 426h1v1h-1zM282 427h1v1h-1zM285 429h1v1h-1zM286 430h1v1h-1zM379 439h1v1h-1zM382 437h1v1h-1zM387 434h1v1h-1zM392 431h1v1h-1zM475 401h1v1h-1zM478 399h1v1h-1zM479 398h1v1h-1zM482 396h1v1h-1zM483 395h1v1h-1zM484 394h1v1h-1zM485 393h1v1h-1zM486 392h1v1h-1zM487 391h1v1h-1zM488 390h1v1h-1zM489 389h1v1h-1zM490 388h1v1h-1zM491 386h1v2h-1zM492 385h1v1h-1zM493 383h1v2h-1zM494 382h1v1h-1zM495 380h1v2h-1zM496 378h1v2h-1zM497 377h1v1h-1zM498 375h1v2h-1zM499 374h1v1h-1zM500 373h1v1h-1zM501 371h1v2h-1zM502 370h1v1h-1zM503 369h1v1h-1zM504 368h1v1h-1zM505 367h1v1h-1zM506 365h1v2h-1zM507 364h1v1h-1zM508 363h1v1h-1zM509 361h1v2h-1zM510 359h1v2h-1zM511 357h1v2h-1zM512 355h1v2h-1zM513 353h1v2h-1zM514 351h1v2h-1zM515 349h1v2h-1zM516 347h1v2h-1zM517 345h1v2h-1zM518 343h1v2h-1zM519 342h1v1h-1zM520 340h1v2h-1zM521 338h1v2h-1zM522 337h1v1h-1zM523 335h1v2h-1zM524 333h1v2h-1zM525 332h1v1h-1zM526 330h1v2h-1zM527 329h1v1h-1zM528 328h1v1h-1zM529 326h1v2h-1zM530 325h1v1h-1zM531 323h1v2h-1zM532 322h1v1h-1zM533 321h1v1h-1zM534 319h1v2h-1zM535 318h1v1h-1zM536 317h1v1h-1zM537 315h1v2h-1zM538 314h1v1h-1zM539 313h1v1h-1zM540 311h1v2h-1zM541 310h1v1h-1zM542 309h1v1h-1zM545 307h1v1h-1zM546 306h1v1h-1zM547 305h1v1h-1zM550 303h1v1h-1zM551 302h1v1h-1zM572 291h1v1h-1zM573 290h1v1h-1zM574 289h1v1h-1zM575 288h1v1h-1zM576 287h1v1h-1zM577 286h1v1h-1zM578 285h1v1h-1zM581 283h1v1h-1zM582 282h1v1h-1zM583 281h1v1h-1zM584 280h1v1h-1zM585 279h1v1h-1zM586 278h1v1h-1zM587 277h1v1h-1zM588 276h1v1h-1zM589 275h1v1h-1zM590 274h1v1h-1zM591 273h1v1h-1zM592 272h1v1h-1zM593 271h1v1h-1zM594 270h1v1h-1zM595 269h1v1h-1zM596 267h1v2h-1zM597 266h1v1h-1zM598 265h1v1h-1zM599 264h1v1h-1zM600 263h1v1h-1zM601 262h1v1h-1zM602 261h1v1h-1zM603 260h1v1h-1zM604 258h1v2h-1zM605 256h1v2h-1zM606 254h1v2h-1zM607 253h1v1h-1zM608 251h1v2h-1zM609 249h1v2h-1zM610 247h1v2h-1zM611 245h1v2h-1zM612 244h1v1h-1zM613 242h1v2h-1zM614 240h1v2h-1zM615 238h1v2h-1zM616 237h1v1h-1zM617 235h1v2h-1zM618 233h1v2h-1zM619 231h1v2h-1zM620 229h1v2h-1zM621 228h1v1h-1zM622 226h1v2h-1zM623 224h1v2h-1zM624 223h1v1h-1zM625 221h1v2h-1zM626 219h1v2h-1zM627 218h1v1h-1zM628 216h1v2h-1zM629 214h1v2h-1zM630 213h1v1h-1zM631 211h1v2h-1zM632 209h1v2h-1zM633 208h1v1h-1zM634 206h1v2h-1zM635 204h1v2h-1zM636 203h1v1h-1zM637 201h1v2h-1zM638 199h1v2h-1zM639 198h1v1h-1zM640 196h1v2h-1zM641 194h1v2h-1zM642 193h1v1h-1zM643 192h1v1h-1zM644 191h1v1h-1zM645 190h1v1h-1zM646 189h1v1h-1zM647 188h1v1h-1zM648 187h1v1h-1zM649 186h1v1h-1zM650 185h1v1h-1zM651 184h1v1h-1zM654 182h1v1h-1zM655 181h1v1h-1zM656 180h1v1h-1zM657 179h1v1h-1zM777 178h1v1h-1zM782 181h1v1h-1zM785 183h1v1h-1zM786 184h1v1h-1zM789 186h1v1h-1zM792 188h1v1h-1zM793 189h1v1h-1zM796 191h1v1h-1zM797 192h1v1h-1zM800 194h1v1h-1zM801 195h1v1h-1zM804 197h1v1h-1zM805 198h1v1h-1zM808 200h1v1h-1zM809 201h1v1h-1zM812 203h1v1h-1zM813 204h1v1h-1zM816 206h1v1h-1zM819 208h1v1h-1zM822 210h1v1h-1zM825 212h1v1h-1zM1002 198h1v1h-1zM1003 199h1v1h-1zM1006 201h1v1h-1zM1007 202h1v1h-1zM1008 203h1v1h-1zM1009 204h1v1h-1zM1012 206h1v1h-1zM1013 207h1v1h-1zM1014 208h1v1h-1zM1015 209h1v1h-1zM1016 210h1v1h-1zM1017 211h1v1h-1zM1018 212h1v1h-1zM1021 214h1v1h-1zM1022 215h1v1h-1zM1023 216h1v1h-1zM1024 217h1v1h-1zM1025 218h1v1h-1zM1026 219h1v1h-1zM1027 220h1v1h-1zM1028 221h1v1h-1zM1029 222h1v2h-1zM1030 224h1v1h-1zM1031 225h1v1h-1zM1032 226h1v1h-1zM1033 227h1v1h-1zM1034 228h1v1h-1zM1035 229h1v2h-1zM1036 231h1v1h-1zM1037 232h1v1h-1zM1038 233h1v1h-1zM1039 234h1v1h-1zM1040 235h1v2h-1zM1041 237h1v1h-1zM1042 238h1v1h-1zM1043 239h1v1h-1zM1044 240h1v1h-1zM1045 241h1v2h-1zM1046 243h1v1h-1zM1047 244h1v1h-1zM1048 245h1v1h-1zM1049 246h1v2h-1zM1050 248h1v1h-1zM1051 249h1v1h-1zM1052 250h1v1h-1zM1053 251h1v2h-1zM1054 253h1v1h-1zM1055 254h1v1h-1zM1056 255h1v2h-1zM1057 257h1v1h-1zM1058 258h1v1h-1zM1059 259h1v2h-1zM1060 261h1v1h-1zM1061 262h1v1h-1zM1062 263h1v2h-1zM1063 265h1v1h-1zM1064 266h1v1h-1zM1065 267h1v2h-1zM1066 269h1v1h-1zM1067 270h1v1h-1zM1068 271h1v2h-1zM1069 273h1v1h-1zM1070 274h1v2h-1zM1071 276h1v1h-1zM1072 277h1v2h-1zM1073 279h1v1h-1zM1074 280h1v1h-1zM1075 281h1v2h-1zM1076 283h1v1h-1zM1077 284h1v1h-1zM1078 285h1v2h-1zM1079 287h1v1h-1zM1080 288h1v1h-1zM1081 289h1v2h-1zM1082 291h1v1h-1zM1083 292h1v1h-1zM1084 293h1v2h-1zM1085 295h1v1h-1zM1086 296h1v1h-1zM1087 297h1v2h-1zM1088 299h1v1h-1zM1089 300h1v1h-1zM1090 301h1v2h-1zM1091 303h1v1h-1zM1092 304h1v1h-1zM1093 305h1v2h-1zM1094 307h1v1h-1zM1095 308h1v1h-1zM1096 309h1v2h-1zM1097 311h1v1h-1zM1098 312h1v1h-1zM1099 313h1v2h-1zM1100 315h1v1h-1zM1101 316h1v1h-1zM1102 317h1v2h-1zM1103 319h1v1h-1zM1104 320h1v2h-1zM1105 322h1v1h-1zM1106 323h1v1h-1zM1107 324h1v2h-1zM1108 326h1v1h-1zM1109 327h1v2h-1zM1110 329h1v1h-1zM1111 330h1v1h-1zM1112 331h1v2h-1zM1113 333h1v1h-1zM1114 334h1v1h-1zM1115 335h1v1h-1zM1116 336h1v2h-1zM1117 338h1v1h-1zM1118 339h1v1h-1zM1119 340h1v1h-1zM1120 341h1v1h-1zM1121 342h1v1h-1zM1122 343h1v1h-1zM1123 344h1v2h-1zM1124 346h1v1h-1zM1125 347h1v1h-1zM1126 348h1v1h-1zM1127 349h1v1h-1zM1128 350h1v1h-1zM1129 351h1v1h-1zM1130 352h1v1h-1zM1131 353h1v1h-1zM1132 354h1v1h-1zM1133 355h1v1h-1zM1134 356h1v2h-1zM1135 358h1v1h-1zM1136 359h1v1h-1zM1137 360h1v1h-1zM1138 361h1v1h-1zM1139 362h1v1h-1zM1140 363h1v1h-1zM1141 364h1v1h-1zM1142 365h1v1h-1zM1143 366h1v1h-1zM1146 368h1v1h-1zM1147 369h1v1h-1zM1148 370h1v1h-1zM1149 371h1v1h-1zM1152 373h1v1h-1zM1153 374h1v1h-1zM1177 374h1v1h-1zM1180 372h1v1h-1zM1183 370h1v1h-1zM1186 368h1v1h-1zM1187 367h1v1h-1zM1188 366h1v1h-1zM1189 364h1v2h-1zM1190 363h1v1h-1zM1191 362h1v1h-1zM1192 361h1v1h-1zM1193 360h1v1h-1zM1194 358h1v2h-1zM1195 357h1v1h-1zM1196 356h1v1h-1zM1197 355h1v1h-1zM1198 354h1v1h-1zM1199 352h1v2h-1zM1200 351h1v1h-1zM1201 350h1v1h-1zM1202 349h1v1h-1zM1203 348h1v1h-1zM1204 347h1v1h-1zM1205 346h1v1h-1zM1206 345h1v1h-1zM1207 344h1v1h-1zM1208 343h1v1h-1zM1209 341h1v2h-1zM1210 340h1v1h-1zM1211 339h1v1h-1zM1212 338h1v1h-1zM1213 337h1v1h-1zM1214 336h1v1h-1zM1215 335h1v1h-1zM1216 334h1v1h-1zM1217 333h1v1h-1zM1218 332h1v1h-1zM1219 331h1v1h-1zM1220 330h1v1h-1zM1221 328h1v2h-1zM1222 327h1v1h-1zM1223 326h1v1h-1zM1224 325h1v1h-1zM1225 324h1v1h-1zM1226 323h1v1h-1zM1227 322h1v1h-1zM1228 321h1v1h-1zM1229 320h1v1h-1zM1230 319h1v1h-1zM1231 317h1v2h-1zM1232 316h1v1h-1zM1233 315h1v1h-1zM1234 314h1v1h-1zM1235 313h1v1h-1zM1236 312h1v1h-1zM1237 311h1v1h-1zM1238 310h1v1h-1zM1239 309h1v1h-1zM1240 308h1v1h-1zM1241 307h1v1h-1zM1242 306h1v1h-1zM1243 305h1v1h-1zM1244 304h1v1h-1zM1245 303h1v1h-1zM1248 301h1v1h-1zM1249 300h1v1h-1zM1250 299h1v1h-1zM1251 298h1v1h-1zM1252 297h1v1h-1zM1253 296h1v1h-1zM1254 295h1v1h-1zM1255 294h1v1h-1zM1256 293h1v1h-1zM1257 292h1v1h-1zM1258 291h1v1h-1zM1259 290h1v1h-1zM1260 289h1v1h-1zM1261 288h1v1h-1zM1262 287h1v1h-1zM1263 286h1v1h-1zM1264 285h1v1h-1zM1265 284h1v1h-1zM1266 283h1v1h-1zM1267 282h1v1h-1zM1268 281h1v1h-1zM1269 279h1v2h-1zM1270 278h1v1h-1zM1271 277h1v1h-1zM1272 276h1v1h-1zM1273 275h1v1h-1zM1274 274h1v1h-1zM1275 273h1v1h-1zM1278 271h1v1h-1zM1279 270h1v1h-1zM1280 269h1v1h-1zM1281 268h1v1h-1zM1284 266h1v1h-1zM1285 265h1v1h-1zM1286 264h1v1h-1zM1289 262h1v1h-1zM1290 261h1v1h-1zM1293 259h1v1h-1zM1294 258h1v1h-1zM1297 256h1v1h-1zM1298 255h1v1h-1zM1299 254h1v1h-1zM1300 253h1v1h-1zM1303 251h1v1h-1zM1304 250h1v1h-1zM1305 249h1v1h-1zM1306 248h1v1h-1zM1309 246h1v1h-1zM1310 245h1v1h-1zM1311 244h1v1h-1zM1314 242h1v1h-1zM1315 241h1v1h-1zM1318 239h1v1h-1zM1319 238h1v1h-1zM1322 236h1v1h-1zM1323 235h1v1h-1zM1324 234h1v1h-1zM1325 233h1v1h-1zM1326 232h1v1h-1zM1327 231h1v1h-1zM1328 230h1v1h-1zM1329 229h1v1h-1zM1330 228h1v1h-1zM1331 227h1v1h-1zM1332 226h1v1h-1zM1337 223h1v1h-1z"/>
</g>
<g shape-rendering="crispEdges">
<path fill="#FF4500" d="M10 277h1v77h-1zM10 307h3v5h-3zM18 291h1v89h-1zM16 310h5v67h-5zM42 384h1v77h-1zM40 442h5v14h-5zM50 304h1v99h-1zM48 375h5v7h-5zM58 279h1v201h-1zM56 313h5v62h-5zM82 342h1v68h-1zM80 372h5v15h-5zM98 332h1v32h-1zM96 343h5v7h-5zM106 276h1v70h-1zM104 310h5v34h-5zM114 327h1v37h-1zM112 334h5v2h-5zM122 316h1v30h-1zM120 322h5v12h-5zM154 446h1v36h-1zM152 453h5v6h-5zM162 357h1v94h-1zM160 365h5v77h-5zM218 448h1v46h-1zM216 474h5v10h-5zM234 405h1v77h-1zM232 432h5v48h-5zM242 377h1v59h-1zM240 382h5v52h-5zM258 404h1v27h-1zM256 411h5v13h-5zM266 359h1v53h-1zM264 408h5v4h-5zM282 410h1v57h-1zM280 418h5v36h-5zM290 379h1v57h-1zM288 419h5v6h-5zM314 406h1v41h-1zM312 424h5v17h-5zM330 452h1v26h-1zM328 454h5v7h-5zM354 458h1v37h-1zM352 463h5v2h-5zM370 422h1v70h-1zM368 433h5v45h-5zM386 339h1v100h-1zM384 351h5v88h-5zM394 306h1v50h-1zM392 319h5v32h-5zM410 340h1v22h-1zM408 353h5v2h-5zM418 343h1v58h-1zM416 343h5v7h-5zM458 367h1v31h-1zM456 381h5v17h-5zM466 357h1v52h-1zM464 372h5v3h-5zM474 361h1v30h-1zM472 369h5v4h-5zM498 153h1v181h-1zM496 171h5v155h-5zM538 193h1v20h-1zM536 196h5v7h-5zM554 231h1v67h-1zM552 244h5v44h-5zM562 226h1v46h-1zM560 247h5v19h-5zM578 168h1v68h-1zM576 186h5v48h-5zM602 193h1v36h-1zM600 194h5v28h-5zM610 69h1v69h-1zM608 100h5v8h-5zM618 79h1v25h-1zM616 87h5v14h-5zM626 84h1v21h-1zM624 87h5v13h-5zM634 78h1v20h-1zM632 85h5v3h-5zM674 127h1v37h-1zM672 140h5v9h-5zM682 118h1v26h-1zM680 128h5v14h-5zM714 235h1v27h-1zM712 245h5v10h-5zM754 192h1v63h-1zM752 208h5v39h-5zM770 158h1v133h-1zM768 162h5v77h-5zM802 192h1v50h-1zM800 202h5v27h-5zM834 179h1v64h-1zM832 201h5v37h-5zM874 229h1v22h-1zM872 235h5v11h-5zM882 163h1v56h-1zM880 183h5v36h-5zM898 161h1v44h-1zM896 178h5v18h-5zM906 157h1v29h-1zM904 158h5v22h-5zM914 157h1v21h-1zM912 170h5v6h-5zM922 142h1v32h-1zM920 154h5v17h-5zM938 161h1v21h-1zM936 163h5v4h-5zM946 113h1v42h-1zM944 127h5v27h-5zM986 208h1v22h-1zM984 212h5v7h-5zM994 279h1v34h-1zM992 295h5v9h-5zM1002 272h1v27h-1zM1000 282h5v14h-5zM1034 396h1v37h-1zM1032 411h5v22h-5zM1058 384h1v34h-1zM1056 395h5v7h-5zM1082 408h1v28h-1zM1080 416h5v4h-5zM1090 372h1v38h-1zM1088 384h5v12h-5zM1098 352h1v50h-1zM1096 358h5v27h-5zM1114 378h1v20h-1zM1112 380h5v8h-5zM1138 388h1v51h-1zM1136 394h5v38h-5zM1146 348h1v58h-1zM1144 356h5v39h-5zM1154 311h1v63h-1zM1152 323h5v29h-5zM1170 262h1v66h-1zM1168 262h5v44h-5zM1178 227h1v46h-1zM1176 232h5v31h-5zM1186 219h1v27h-1zM1184 235h5v10h-5zM1202 232h1v20h-1zM1200 242h5v5h-5zM1210 233h1v13h-1zM1208 241h5v1h-5zM1226 231h1v29h-1zM1224 238h5v13h-5zM1234 186h1v58h-1zM1232 203h5v33h-5zM1250 238h1v39h-1zM1248 252h5v12h-5zM1266 155h1v83h-1zM1264 180h5v56h-5zM1306 226h1v18h-1zM1304 232h5v9h-5zM1330 163h1v62h-1zM1328 169h5v52h-5z"/>
<path fill="#32CD32" d="M26 308h1v74h-1zM24 309h5v58h-5zM34 370h1v101h-1zM32 391h5v65h-5zM66 336h1v38h-1zM64 357h5v7h-5zM74 358h1v42h-1zM72 364h5v11h-5zM90 343h1v54h-1zM88 372h5v25h-5zM130 309h1v112h-1zM128 311h5v91h-5zM138 390h1v52h-1zM136 402h5v18h-5zM146 410h1v85h-1zM144 415h5v43h-5zM170 365h1v47h-1zM168 365h5v47h-5zM178 392h1v37h-1zM176 406h5v2h-5zM186 404h1v46h-1zM184 406h5v10h-5zM194 431h1v71h-1zM192 435h5v38h-5zM202 458h1v38h-1zM200 471h5v18h-5zM210 433h1v55h-1zM208 472h5v15h-5zM226 462h1v63h-1zM224 468h5v10h-5zM250 373h1v58h-1zM248 383h5v27h-5zM274 405h1v71h-1zM272 405h5v49h-5zM298 401h1v49h-1zM296 420h5v25h-5zM306 370h1v91h-1zM304 416h5v25h-5zM322 416h1v63h-1zM320 424h5v35h-5zM338 414h1v27h-1zM336 419h5v15h-5zM346 416h1v54h-1zM344 432h5v37h-5zM362 462h1v44h-1zM360 463h5v40h-5zM378 426h1v36h-1zM376 433h5v16h-5zM402 327h1v36h-1zM400 331h5v25h-5zM426 339h1v36h-1zM424 344h5v18h-5zM434 335h1v40h-1zM432 353h5v19h-5zM442 360h1v42h-1zM440 370h5v20h-5zM450 349h1v51h-1zM448 386h5v11h-5zM482 234h1v65h-1zM480 256h5v20h-5zM490 268h1v47h-1zM488 276h5v30h-5zM506 170h1v64h-1zM504 171h5v37h-5zM514 158h1v46h-1zM512 183h5v9h-5zM522 185h1v35h-1zM520 191h5v12h-5zM530 181h1v41h-1zM528 201h5v2h-5zM546 197h1v100h-1zM544 201h5v88h-5zM570 237h1v20h-1zM568 247h5v2h-5zM586 181h1v49h-1zM584 185h5v13h-5zM594 200h1v35h-1zM592 203h5v19h-5zM642 96h1v30h-1zM640 100h5v8h-5zM650 105h1v33h-1zM648 107h5v16h-5zM658 104h1v44h-1zM656 117h5v27h-5zM666 133h1v43h-1zM664 143h5v8h-5zM690 148h1v124h-1zM688 148h5v89h-5zM706 218h1v44h-1zM704 227h5v28h-5zM722 216h1v39h-1zM720 221h5v16h-5zM730 233h1v26h-1zM728 237h5v7h-5zM738 187h1v51h-1zM736 221h5v11h-5zM746 226h1v40h-1zM744 231h5v18h-5zM762 197h1v22h-1zM760 208h5v5h-5zM778 159h1v49h-1zM776 161h5v33h-5zM786 182h1v33h-1zM784 198h5v8h-5zM794 203h1v17h-1zM792 204h5v7h-5zM810 196h1v23h-1zM808 203h5v16h-5zM818 238h1v26h-1zM816 243h5v13h-5zM826 238h1v25h-1zM824 256h5v5h-5zM842 196h1v30h-1zM840 200h5v14h-5zM850 197h1v73h-1zM848 208h5v12h-5zM858 218h1v31h-1zM856 218h5v30h-5zM866 227h1v28h-1zM864 235h5v11h-5zM890 182h1v30h-1zM888 183h5v19h-5zM930 151h1v30h-1zM928 158h5v10h-5zM954 125h1v22h-1zM952 127h5v17h-5zM962 159h1v26h-1zM960 159h5v11h-5zM970 160h1v19h-1zM968 169h5v2h-5zM978 179h1v47h-1zM976 192h5v26h-5zM1010 299h1v48h-1zM1008 314h5v19h-5zM1018 327h1v41h-1zM1016 331h5v33h-5zM1026 426h1v45h-1zM1024 431h5v12h-5zM1042 391h1v36h-1zM1040 393h5v24h-5zM1050 409h1v35h-1zM1048 416h5v25h-5zM1066 380h1v26h-1zM1064 395h5v1h-5zM1074 373h1v52h-1zM1072 375h5v44h-5zM1106 366h1v25h-1zM1104 377h5v11h-5zM1122 319h1v33h-1zM1120 329h5v11h-5zM1130 336h1v23h-1zM1128 338h5v20h-5zM1162 315h1v34h-1zM1160 323h5v22h-5zM1194 229h1v17h-1zM1192 235h5v10h-5zM1218 229h1v27h-1zM1216 231h5v20h-5zM1242 190h1v29h-1zM1240 204h5v4h-5zM1258 250h1v24h-1zM1256 251h5v5h-5zM1274 174h1v39h-1zM1272 180h5v30h-5zM1282 193h1v36h-1zM1280 198h5v21h-5zM1290 203h1v19h-1zM1288 217h5v2h-5zM1298 212h1v48h-1zM1296 214h5v26h-5zM1314 179h1v42h-1zM1312 204h5v11h-5zM1322 202h1v50h-1zM1320 214h5v9h-5zM1338 147h1v29h-1zM1336 169h5v7h-5z"/>
<path fill="#000000" d="M698 204h1v43h-1zM696 235h5v1h-5z"/>
</g>
<g shape-rendering="crispEdges">
<path fill="#c0c0c0" d="M10 562h1v25h-1zM18 562h1v28h-1zM26 562h1v30h-1zM34 562h1v33h-1zM42 562h1v35h-1zM50 562h1v34h-1zM58 562h1v33h-1zM66 562h1v30h-1zM74 562h1v30h-1zM82 562h1v29h-1zM90 562h1v29h-1zM98 562h1v29h-1zM106 562h1v27h-1zM114 562h1v25h-1zM122 562h1v23h-1zM130 562h1v21h-1zM138 562h1v21h-1zM146 562h1v20h-1zM154 562h1v21h-1zM162 562h1v20h-1zM170 562h1v20h-1zM178 562h1v19h-1zM186 562h1v18h-1zM194 562h1v18h-1zM202 562h1v18h-1zM210 562h1v18h-1zM218 562h1v18h-1zM226 562h1v18h-1zM234 562h1v16h-1zM242 562h1v14h-1zM250 562h1v12h-1zM258 562h1v11h-1zM266 562h1v10h-1zM274 562h1v9h-1zM282 562h1v9h-1zM290 562h1v8h-1zM298 562h1v8h-1zM306 562h1v8h-1zM314 562h1v7h-1zM322 562h1v7h-1zM330 562h1v7h-1zM338 562h1v7h-1zM346 562h1v7h-1zM354 562h1v6h-1zM362 562h1v6h-1zM370 562h1v6h-1zM378 562h1v5h-1zM386 562h1v5h-1zM394 562h1v1h-1zM402 562h1v1h-1zM410 562h1v1h-1zM418 562h1v1h-1zM426 559h1v3h-1zM434 559h1v3h-1zM442 560h1v2h-1zM450 560h1v2h-1zM458 560h1v2h-1zM466 560h1v2h-1zM474 559h1v3h-1zM482 558h1v4h-1zM490 556h1v6h-1zM498 552h1v10h-1zM506 550h1v12h-1zM514 548h1v14h-1zM522 547h1v15h-1zM530 547h1v15h-1zM538 547h1v15h-1zM546 548h1v14h-1zM554 549h1v13h-1zM562 549h1v13h-1zM570 549h1v13h-1zM578 549h1v13h-1zM586 549h1v13h-1zM594 549h1v13h-1zM602 549h1v13h-1zM610 548h1v14h-1zM618 547h1v15h-1zM626 545h1v17h-1zM634 544h1v18h-1zM642 544h1v18h-1zM650 545h1v17h-1zM658 546h1v16h-1zM666 547h1v15h-1zM674 548h1v14h-1zM682 549h1v13h-1zM690 552h1v10h-1zM698 556h1v6h-1zM706 558h1v4h-1zM714 559h1v3h-1zM722 561h1v1h-1zM730 562h1v1h-1zM738 562h1v1h-1zM746 562h1v1h-1zM754 562h1v1h-1zM762 562h1v1h-1zM770 562h1v1h-1zM778 562h1v1h-1zM786 562h1v1h-1zM794 562h1v1h-1zM802 562h1v1h-1zM810 562h1v1h-1zM818 562h1v1h-1zM826 562h1v1h-1zM834 562h1v1h-1zM842 562h1v1h-1zM850 562h1v1h-1zM858 562h1v1h-1zM866 562h1v1h-1zM874 562h1v1h-1zM882 562h1v1h-1zM890 562h1v1h-1zM898 561h1v1h-1zM906 561h1v1h-1zM914 561h1v1h-1zM922 560h1v2h-1zM930 559h1v3h-1zM938 559h1v3h-1zM946 558h1v4h-1zM954 558h1v4h-1zM962 558h1v4h-1zM970 558h1v4h-1zM978 560h1v2h-1zM986 561h1v1h-1zM994 562h1v1h-1zM1002 562h1v3h-1zM1010 562h1v6h-1zM1018 562h1v8h-1zM1026 562h1v12h-1zM1034 562h1v15h-1zM1042 562h1v16h-1zM1050 562h1v17h-1zM1058 562h1v16h-1zM1066 562h1v16h-1zM1074 562h1v16h-1zM1082 562h1v16h-1zM1090 562h1v16h-1zM1098 562h1v15h-1zM1106 562h1v14h-1zM1114 562h1v12h-1zM1122 562h1v11h-1zM1130 562h1v10h-1zM1138 562h1v10h-1zM1146 562h1v9h-1zM1154 562h1v8h-1zM1162 562h1v6h-1zM1170 562h1v5h-1zM1178 562h1v1h-1zM1186 562h1v1h-1zM1194 560h1v2h-1zM1202 559h1v3h-1zM1210 558h1v4h-1zM1218 558h1v4h-1zM1226 558h1v4h-1zM1234 557h1v5h-1zM1242 556h1v6h-1zM1250 556h1v6h-1zM1258 557h1v5h-1zM1266 556h1v6h-1zM1274 555h1v7h-1zM1282 555h1v7h-1zM1290 555h1v7h-1zM1298 555h1v7h-1zM1306 555h1v7h-1zM1314 555h1v7h-1zM1322 555h1v7h-1zM1330 555h1v7h-1zM1338 555h1v7h-1z"/>
<path fill="#ff0000" d="M526 553h3v1h-3zM725 553h2v1h-2zM652 546h3v1h-3zM658 546h3v1h-3zM664 546h3v1h-3zM670 546h3v1h-3zM676 546h3v1h-3zM682 546h3v1h-3zM688 546h3v1h-3zM640 547h3v1h-3zM646 547h3v1h-3zM694 547h3v1h-3zM700 547h2v1h-2zM442 562h3v1h-3zM784 562h3v1h-3zM790 562h3v1h-3zM796 562h3v1h-3zM802 562h3v1h-3zM808 562h3v1h-3zM814 562h3v1h-3zM820 562h3v1h-3zM826 562h3v1h-3zM832 562h3v1h-3zM838 562h3v1h-3zM844 562h3v1h-3zM850 562h2v1h-2zM928 562h3v1h-3zM1216 562h3v1h-3zM550 549h3v1h-3zM556 549h3v1h-3zM580 549h3v1h-3zM586 549h3v1h-3zM592 549h3v1h-3zM598 549h3v1h-3zM604 549h3v1h-3zM400 567h3v1h-3zM1036 567h2v1h-2zM1198 567h3v1h-3zM520 554h3v1h-3zM730 554h3v1h-3zM1312 554h3v1h-3zM1318 554h3v1h-3zM1324 554h3v1h-3zM1330 554h3v1h-3zM1336 554h3v1h-3zM298 574h3v1h-3zM1060 574h2v1h-2zM1157 574h2v1h-2zM502 556h3v1h-3zM508 556h3v1h-3zM742 556h3v1h-3zM1258 556h3v1h-3zM1264 556h3v1h-3zM1270 556h2v1h-2zM64 594h3v1h-3zM70 594h3v1h-3zM76 594h3v1h-3zM82 594h3v1h-3zM88 594h3v1h-3zM94 594h3v1h-3zM100 594h3v1h-3zM467 559h2v1h-2zM472 559h3v1h-3zM755 559h2v1h-2zM952 559h3v1h-3zM958 559h3v1h-3zM1240 559h3v1h-3zM430 563h3v1h-3zM436 563h2v1h-2zM856 563h3v1h-3zM862 563h3v1h-3zM910 563h3v1h-3zM916 563h3v1h-3zM922 563h2v1h-2zM1019 563h2v1h-2zM562 548h3v1h-3zM568 548h3v1h-3zM574 548h3v1h-3zM610 548h3v1h-3zM616 548h3v1h-3zM622 548h3v1h-3zM628 548h3v1h-3zM634 548h2v1h-2zM706 548h3v1h-3zM16 578h2v1h-2zM256 578h3v1h-3zM262 578h3v1h-3zM1072 578h3v1h-3zM1078 578h3v1h-3zM1132 578h3v1h-3zM322 571h3v1h-3zM1048 571h3v1h-3zM1180 571h2v1h-2zM460 560h3v1h-3zM760 560h3v1h-3zM940 560h3v1h-3zM946 560h3v1h-3zM1007 560h2v1h-2zM1229 560h2v1h-2zM1234 560h3v1h-3zM10 576h2v1h-2zM280 576h3v1h-3zM286 576h2v1h-2zM1066 576h2v1h-2zM1144 576h3v1h-3zM197 582h2v1h-2zM202 582h3v1h-3zM208 582h3v1h-3zM214 582h3v1h-3zM220 582h2v1h-2zM53 591h2v1h-2zM58 591h2v1h-2zM112 591h3v1h-3zM118 591h2v1h-2zM478 558h3v1h-3zM484 558h3v1h-3zM964 558h3v1h-3zM970 558h3v1h-3zM976 558h3v1h-3zM982 558h3v1h-3zM988 558h3v1h-3zM994 558h3v1h-3zM1000 558h3v1h-3zM1246 558h3v1h-3zM292 575h3v1h-3zM1150 575h3v1h-3zM448 561h3v1h-3zM454 561h2v1h-2zM766 561h3v1h-3zM772 561h3v1h-3zM778 561h2v1h-2zM934 561h3v1h-3zM1012 561h3v1h-3zM1222 561h3v1h-3zM268 577h3v1h-3zM274 577h3v1h-3zM1138 577h3v1h-3zM329 570h2v1h-2zM334 570h3v1h-3zM340 570h3v1h-3zM346 570h3v1h-3zM352 570h3v1h-3zM245 579h2v1h-2zM250 579h3v1h-3zM1084 579h3v1h-3zM1090 579h3v1h-3zM1096 579h3v1h-3zM1102 579h3v1h-3zM1108 579h3v1h-3zM1114 579h3v1h-3zM1120 579h3v1h-3zM1126 579h3v1h-3zM305 573h2v1h-2zM310 573h3v1h-3zM1055 573h2v1h-2zM1163 573h2v1h-2zM1168 573h2v1h-2zM358 569h3v1h-3zM364 569h3v1h-3zM370 569h3v1h-3zM376 569h3v1h-3zM382 569h3v1h-3zM1042 569h3v1h-3zM1187 569h2v1h-2zM514 555h3v1h-3zM736 555h3v1h-3zM1276 555h3v1h-3zM1282 555h3v1h-3zM1288 555h3v1h-3zM1294 555h3v1h-3zM1300 555h3v1h-3zM1306 555h3v1h-3zM413 565h2v1h-2zM418 565h3v1h-3zM41 587h2v1h-2zM136 587h3v1h-3zM424 564h3v1h-3zM869 564h2v1h-2zM874 564h3v1h-3zM880 564h3v1h-3zM886 564h3v1h-3zM892 564h3v1h-3zM898 564h3v1h-3zM904 564h3v1h-3zM1024 564h3v1h-3zM1210 564h2v1h-2zM154 585h3v1h-3zM160 585h3v1h-3zM538 550h3v1h-3zM544 550h3v1h-3zM713 550h2v1h-2zM29 583h2v1h-2zM178 583h3v1h-3zM184 583h3v1h-3zM190 583h3v1h-3zM143 586h2v1h-2zM148 586h3v1h-3zM226 581h3v1h-3zM406 566h3v1h-3zM1031 566h2v1h-2zM1204 566h2v1h-2zM34 584h3v1h-3zM166 584h3v1h-3zM172 584h3v1h-3zM130 589h3v1h-3zM22 580h3v1h-3zM233 580h2v1h-2zM238 580h3v1h-3zM490 557h3v1h-3zM496 557h3v1h-3zM748 557h2v1h-2zM1252 557h3v1h-3zM718 551h3v1h-3zM124 590h3v1h-3zM388 568h3v1h-3zM394 568h2v1h-2zM1192 568h3v1h-3zM106 593h3v1h-3zM532 552h2v1h-2zM46 588h3v1h-3zM316 572h3v1h-3zM1174 572h2v1h-2zM12 577h1v1h-1zM18 579h1v1h-1zM28 582h1v1h-1zM40 586h1v1h-1zM52 590h1v1h-1zM60 592h1v1h-1zM120 590h1v1h-1zM142 587h1v1h-1zM196 583h1v1h-1zM222 581h1v1h-1zM232 581h1v1h-1zM244 580h1v1h-1zM288 575h1v1h-1zM304 574h1v1h-1zM328 571h1v1h-1zM396 567h1v1h-1zM412 566h1v1h-1zM438 562h1v1h-1zM456 560h1v1h-1zM466 560h1v1h-1zM534 551h1v1h-1zM636 547h1v1h-1zM702 548h1v1h-1zM712 549h1v1h-1zM724 552h1v1h-1zM750 558h1v1h-1zM754 558h1v1h-1zM780 562h1v1h-1zM852 563h1v1h-1zM868 563h1v1h-1zM924 562h1v1h-1zM1006 559h1v1h-1zM1018 562h1v1h-1zM1030 565h1v1h-1zM1038 568h1v1h-1zM1054 572h1v1h-1zM1062 575h1v1h-1zM1068 577h1v1h-1zM1156 575h1v1h-1zM1162 574h1v1h-1zM1170 572h1v1h-1zM1176 571h1v1h-1zM1182 570h1v1h-1zM1186 570h1v1h-1zM1206 565h1v1h-1zM1212 563h1v1h-1zM1228 561h1v1h-1zM1272 555h1v1h-1z"/>
<path fill="#1E90FF" d="M24 695h2v1h-2zM1020 695h2v1h-2zM1049 695h3v1h-3zM403 658h9v1h-9zM422 658h2v1h-2zM552 658h2v1h-2zM558 658h13v1h-13zM900 658h2v1h-2zM914 658h3v1h-3zM930 658h9v1h-9zM1279 658h8v1h-8zM1314 658h5v1h-5zM438 664h2v1h-2zM460 664h3v1h-3zM780 664h3v1h-3zM834 664h3v1h-3zM401 657h2v1h-2zM412 657h4v1h-4zM420 657h2v1h-2zM554 657h4v1h-4zM594 657h2v1h-2zM664 657h5v1h-5zM902 657h2v1h-2zM911 657h3v1h-3zM917 657h2v1h-2zM927 657h3v1h-3zM956 657h2v1h-2zM1218 657h3v1h-3zM1274 657h5v1h-5zM101 676h2v1h-2zM112 676h2v1h-2zM117 676h2v1h-2zM166 676h2v1h-2zM299 676h2v1h-2zM327 676h4v1h-4zM345 676h2v1h-2zM704 676h2v1h-2zM709 676h4v1h-4zM818 676h4v1h-4zM1101 676h2v1h-2zM442 666h5v1h-5zM452 666h4v1h-4zM757 666h4v1h-4zM786 666h5v1h-5zM799 666h6v1h-6zM841 666h4v1h-4zM1157 666h2v1h-2zM433 662h3v1h-3zM466 662h5v1h-5zM888 662h2v1h-2zM891 662h2v1h-2zM963 662h8v1h-8zM1296 662h2v1h-2zM1301 662h4v1h-4zM70 684h15v1h-15zM137 684h3v1h-3zM195 684h2v1h-2zM214 684h3v1h-3zM1000 684h2v1h-2zM1004 684h2v1h-2zM1086 684h2v1h-2zM390 654h2v1h-2zM574 654h2v1h-2zM588 654h2v1h-2zM600 654h2v1h-2zM655 654h2v1h-2zM677 654h4v1h-4zM952 654h2v1h-2zM1174 654h2v1h-2zM1190 654h24v1h-24zM1226 654h2v1h-2zM114 677h3v1h-3zM177 677h4v1h-4zM323 677h4v1h-4zM347 677h9v1h-9zM706 677h3v1h-3zM822 677h5v1h-5zM1094 677h2v1h-2zM1103 677h2v1h-2zM1113 677h2v1h-2zM416 656h4v1h-4zM592 656h2v1h-2zM596 656h2v1h-2zM659 656h5v1h-5zM669 656h4v1h-4zM904 656h2v1h-2zM909 656h2v1h-2zM919 656h3v1h-3zM925 656h2v1h-2zM940 656h2v1h-2zM1216 656h2v1h-2zM1221 656h2v1h-2zM246 669h2v1h-2zM373 669h4v1h-4zM809 669h2v1h-2zM852 669h2v1h-2zM1123 669h2v1h-2zM64 682h2v1h-2zM131 682h2v1h-2zM191 682h2v1h-2zM581 651h2v1h-2zM649 651h2v1h-2zM1231 651h2v1h-2zM1241 651h3v1h-3zM1333 651h4v1h-4zM424 659h2v1h-2zM897 659h3v1h-3zM1287 659h5v1h-5zM1311 659h3v1h-3zM1319 659h5v1h-5zM89 687h2v1h-2zM146 687h5v1h-5zM994 687h2v1h-2zM1008 687h2v1h-2zM1070 687h2v1h-2zM1081 687h3v1h-3zM248 670h2v1h-2zM262 670h5v1h-5zM283 670h4v1h-4zM377 670h2v1h-2zM873 670h2v1h-2zM1125 670h2v1h-2zM429 661h4v1h-4zM471 661h5v1h-5zM548 661h2v1h-2zM886 661h2v1h-2zM893 661h2v1h-2zM1251 661h8v1h-8zM1294 661h2v1h-2zM1305 661h4v1h-4zM12 692h4v1h-4zM1016 692h2v1h-2zM1035 692h4v1h-4zM293 673h2v1h-2zM308 673h2v1h-2zM334 673h2v1h-2zM691 673h9v1h-9zM718 673h3v1h-3zM725 673h4v1h-4zM733 673h2v1h-2zM743 673h3v1h-3zM814 673h2v1h-2zM859 673h10v1h-10zM978 673h5v1h-5zM1118 673h2v1h-2zM447 667h5v1h-5zM761 667h2v1h-2zM791 667h8v1h-8zM805 667h2v1h-2zM845 667h4v1h-4zM1150 667h2v1h-2zM1159 667h2v1h-2zM388 655h2v1h-2zM398 655h2v1h-2zM590 655h2v1h-2zM598 655h2v1h-2zM657 655h2v1h-2zM673 655h4v1h-4zM906 655h3v1h-3zM922 655h3v1h-3zM1172 655h2v1h-2zM1214 655h2v1h-2zM1223 655h3v1h-3zM645 649h2v1h-2zM1235 649h2v1h-2zM105 674h2v1h-2zM108 674h2v1h-2zM121 674h2v1h-2zM163 674h2v1h-2zM270 674h2v1h-2zM295 674h2v1h-2zM305 674h3v1h-3zM342 674h2v1h-2zM700 674h2v1h-2zM716 674h2v1h-2zM729 674h4v1h-4zM746 674h2v1h-2zM1142 674h2v1h-2zM617 642h18v1h-18zM32 699h2v1h-2zM37 699h4v1h-4zM482 648h3v1h-3zM643 648h2v1h-2zM613 643h4v1h-4zM635 643h2v1h-2zM66 683h4v1h-4zM133 683h4v1h-4zM193 683h2v1h-2zM217 683h11v1h-11zM1002 683h2v1h-2zM511 645h6v1h-6zM638 645h2v1h-2zM244 668h2v1h-2zM371 668h2v1h-2zM807 668h2v1h-2zM849 668h3v1h-3zM1161 668h2v1h-2zM486 650h2v1h-2zM579 650h2v1h-2zM647 650h2v1h-2zM1233 650h2v1h-2zM1237 650h4v1h-4zM1331 650h2v1h-2zM280 672h2v1h-2zM291 672h2v1h-2zM310 672h2v1h-2zM316 672h2v1h-2zM336 672h2v1h-2zM339 672h2v1h-2zM721 672h4v1h-4zM735 672h2v1h-2zM740 672h3v1h-3zM857 672h2v1h-2zM869 672h2v1h-2zM983 672h5v1h-5zM1130 672h2v1h-2zM126 678h2v1h-2zM169 678h2v1h-2zM173 678h4v1h-4zM181 678h4v1h-4zM356 678h2v1h-2zM1105 678h2v1h-2zM1109 678h4v1h-4zM426 660h3v1h-3zM774 660h2v1h-2zM884 660h2v1h-2zM895 660h2v1h-2zM960 660h2v1h-2zM1292 660h2v1h-2zM1309 660h2v1h-2zM489 652h2v1h-2zM583 652h3v1h-3zM651 652h2v1h-2zM948 652h2v1h-2zM1178 652h5v1h-5zM1337 652h2v1h-2zM20 694h4v1h-4zM1045 694h4v1h-4zM440 665h2v1h-2zM456 665h4v1h-4zM755 665h2v1h-2zM783 665h3v1h-3zM837 665h4v1h-4zM1155 665h2v1h-2zM62 681h2v1h-2zM361 681h2v1h-2zM1072 688h2v1h-2zM1077 688h4v1h-4zM85 685h2v1h-2zM140 685h3v1h-3zM197 685h4v1h-4zM212 685h2v1h-2zM998 685h2v1h-2zM1058 685h10v1h-10zM87 686h2v1h-2zM143 686h3v1h-3zM151 686h4v1h-4zM201 686h11v1h-11zM996 686h2v1h-2zM1068 686h2v1h-2zM30 698h2v1h-2zM41 698h3v1h-3zM1024 698h2v1h-2zM521 647h13v1h-13zM641 647h2v1h-2zM1011 689h2v1h-2zM1074 689h3v1h-3zM504 644h2v1h-2zM611 644h2v1h-2zM10 691h2v1h-2zM1014 691h2v1h-2zM392 653h2v1h-2zM395 653h2v1h-2zM586 653h2v1h-2zM602 653h2v1h-2zM653 653h2v1h-2zM681 653h3v1h-3zM944 653h2v1h-2zM950 653h2v1h-2zM1176 653h2v1h-2zM1183 653h7v1h-7zM1228 653h2v1h-2zM250 671h12v1h-12zM287 671h4v1h-4zM312 671h2v1h-2zM737 671h3v1h-3zM855 671h2v1h-2zM871 671h2v1h-2zM1127 671h3v1h-3zM28 697h2v1h-2zM103 675h2v1h-2zM110 675h2v1h-2zM119 675h2v1h-2zM276 675h2v1h-2zM297 675h2v1h-2zM301 675h4v1h-4zM320 675h2v1h-2zM331 675h2v1h-2zM702 675h2v1h-2zM713 675h3v1h-3zM1099 675h2v1h-2zM1134 675h2v1h-2zM436 663h2v1h-2zM463 663h3v1h-3zM778 663h2v1h-2zM1298 663h3v1h-3zM16 693h4v1h-4zM1039 693h6v1h-6zM60 680h2v1h-2zM188 680h2v1h-2zM359 680h2v1h-2zM58 679h2v1h-2zM171 679h2v1h-2zM185 679h3v1h-3zM1107 679h2v1h-2zM26 696h2v1h-2zM507 646h4v1h-4zM517 646h4v1h-4zM534 646h4v1h-4zM498 640h2v1h-2zM500 641h2v1h-2zM34 700h3v1h-3zM44 697h1v1h-1zM45 695h1v2h-1zM46 694h1v1h-1zM47 693h1v1h-1zM48 692h1v1h-1zM49 690h1v2h-1zM50 689h1v1h-1zM51 688h1v1h-1zM52 686h1v2h-1zM53 685h1v1h-1zM54 684h1v1h-1zM55 683h1v1h-1zM56 681h1v2h-1zM57 680h1v1h-1zM91 686h1v1h-1zM92 685h1v1h-1zM93 684h1v1h-1zM94 683h1v1h-1zM95 682h1v1h-1zM96 681h1v1h-1zM97 680h1v1h-1zM98 679h1v1h-1zM99 678h1v1h-1zM100 677h1v1h-1zM107 673h1v1h-1zM123 675h1v1h-1zM124 676h1v1h-1zM125 677h1v1h-1zM128 679h1v1h-1zM129 680h1v1h-1zM130 681h1v1h-1zM155 684h1v2h-1zM156 682h1v2h-1zM157 681h1v1h-1zM158 679h1v2h-1zM159 678h1v1h-1zM160 676h1v2h-1zM161 674h1v2h-1zM162 673h1v1h-1zM165 675h1v1h-1zM168 677h1v1h-1zM190 681h1v1h-1zM228 682h1v1h-1zM229 681h1v1h-1zM230 680h1v1h-1zM231 679h1v1h-1zM232 678h1v1h-1zM233 677h1v1h-1zM234 676h1v1h-1zM235 675h1v1h-1zM236 674h1v1h-1zM237 673h1v1h-1zM238 672h1v1h-1zM239 671h1v1h-1zM240 670h1v1h-1zM241 669h1v1h-1zM242 668h1v1h-1zM243 667h1v1h-1zM267 671h1v1h-1zM268 672h1v1h-1zM269 673h1v1h-1zM272 675h1v1h-1zM273 676h1v1h-1zM274 677h1v1h-1zM275 676h1v1h-1zM278 674h1v1h-1zM279 673h1v1h-1zM282 671h1v1h-1zM314 670h1v1h-1zM315 671h1v1h-1zM318 673h1v1h-1zM319 674h1v1h-1zM322 676h1v1h-1zM333 674h1v1h-1zM338 671h1v1h-1zM341 673h1v1h-1zM344 675h1v1h-1zM358 679h1v1h-1zM363 682h1v1h-1zM364 680h1v2h-1zM365 678h1v2h-1zM366 676h1v2h-1zM367 675h1v1h-1zM368 673h1v2h-1zM369 671h1v2h-1zM370 669h1v2h-1zM379 668h1v2h-1zM380 667h1v1h-1zM381 665h1v2h-1zM382 664h1v1h-1zM383 662h1v2h-1zM384 660h1v2h-1zM385 659h1v1h-1zM386 657h1v2h-1zM387 656h1v1h-1zM394 652h1v1h-1zM397 654h1v1h-1zM400 656h1v1h-1zM476 659h1v2h-1zM477 657h1v2h-1zM478 655h1v2h-1zM479 653h1v2h-1zM480 651h1v2h-1zM481 649h1v2h-1zM482 647h1v1h-1zM485 649h1v1h-1zM488 651h1v1h-1zM491 653h1v1h-1zM492 651h1v2h-1zM493 649h1v2h-1zM494 647h1v2h-1zM495 645h1v2h-1zM496 643h1v2h-1zM497 641h1v2h-1zM498 639h1v1h-1zM502 642h1v1h-1zM503 643h1v1h-1zM506 645h1v1h-1zM538 647h1v2h-1zM539 649h1v2h-1zM540 651h1v2h-1zM541 653h1v2h-1zM542 655h1v2h-1zM543 657h1v2h-1zM544 659h1v2h-1zM545 661h1v2h-1zM546 663h1v1h-1zM547 662h1v1h-1zM550 660h1v1h-1zM551 659h1v1h-1zM571 657h1v1h-1zM572 656h1v1h-1zM573 655h1v1h-1zM576 653h1v1h-1zM577 652h1v1h-1zM578 651h1v1h-1zM604 652h1v1h-1zM605 651h1v1h-1zM606 650h1v1h-1zM607 648h1v2h-1zM608 647h1v1h-1zM609 646h1v1h-1zM610 645h1v1h-1zM637 644h1v1h-1zM640 646h1v1h-1zM683 654h1v1h-1zM684 655h1v2h-1zM685 657h1v3h-1zM686 660h1v2h-1zM687 662h1v3h-1zM688 665h1v2h-1zM689 667h1v3h-1zM690 670h1v2h-1zM691 672h1v1h-1zM748 673h1v1h-1zM749 672h1v1h-1zM750 671h1v1h-1zM751 669h1v2h-1zM752 668h1v1h-1zM753 667h1v1h-1zM754 666h1v1h-1zM763 666h1v1h-1zM764 665h1v1h-1zM765 664h1v1h-1zM766 663h1v1h-1zM767 661h1v2h-1zM768 660h1v1h-1zM769 659h1v1h-1zM770 658h1v1h-1zM771 657h1v1h-1zM772 658h1v1h-1zM773 659h1v1h-1zM776 661h1v1h-1zM777 662h1v1h-1zM811 670h1v1h-1zM812 671h1v1h-1zM813 672h1v1h-1zM816 674h1v1h-1zM817 675h1v1h-1zM827 675h1v2h-1zM828 673h1v2h-1zM829 672h1v1h-1zM830 670h1v2h-1zM831 669h1v1h-1zM832 667h1v2h-1zM833 665h1v2h-1zM854 670h1v1h-1zM875 669h1v1h-1zM876 667h1v2h-1zM877 666h1v1h-1zM878 665h1v1h-1zM879 664h1v1h-1zM880 663h1v1h-1zM881 661h1v2h-1zM882 660h1v1h-1zM883 659h1v1h-1zM890 663h1v1h-1zM939 657h1v1h-1zM942 655h1v1h-1zM943 654h1v1h-1zM946 652h1v1h-1zM947 651h1v1h-1zM954 655h1v1h-1zM955 656h1v1h-1zM958 658h1v1h-1zM959 659h1v1h-1zM962 661h1v1h-1zM971 663h1v2h-1zM972 665h1v1h-1zM973 666h1v1h-1zM974 667h1v2h-1zM975 669h1v1h-1zM976 670h1v1h-1zM977 671h1v2h-1zM987 673h1v1h-1zM988 674h1v2h-1zM989 676h1v2h-1zM990 678h1v2h-1zM991 680h1v2h-1zM992 682h1v2h-1zM993 684h1v2h-1zM994 686h1v1h-1zM1006 685h1v1h-1zM1007 686h1v1h-1zM1010 688h1v1h-1zM1013 690h1v1h-1zM1018 693h1v1h-1zM1019 694h1v1h-1zM1022 696h1v1h-1zM1023 697h1v1h-1zM1026 699h1v1h-1zM1027 700h1v1h-1zM1028 699h1v1h-1zM1029 698h1v1h-1zM1030 697h1v1h-1zM1031 696h1v1h-1zM1032 695h1v1h-1zM1033 694h1v1h-1zM1034 693h1v1h-1zM1052 693h1v2h-1zM1053 692h1v1h-1zM1054 691h1v1h-1zM1055 689h1v2h-1zM1056 688h1v1h-1zM1057 686h1v2h-1zM1084 686h1v1h-1zM1085 685h1v1h-1zM1088 683h1v1h-1zM1089 682h1v1h-1zM1090 681h1v1h-1zM1091 680h1v1h-1zM1092 679h1v1h-1zM1093 678h1v1h-1zM1096 676h1v1h-1zM1097 675h1v1h-1zM1098 674h1v1h-1zM1115 676h1v1h-1zM1116 675h1v1h-1zM1117 674h1v1h-1zM1120 672h1v1h-1zM1121 671h1v1h-1zM1122 670h1v1h-1zM1132 673h1v1h-1zM1133 674h1v1h-1zM1136 676h1v1h-1zM1137 677h1v1h-1zM1138 678h1v1h-1zM1139 677h1v1h-1zM1140 676h1v1h-1zM1141 675h1v1h-1zM1144 673h1v1h-1zM1145 672h1v1h-1zM1146 671h1v1h-1zM1147 670h1v1h-1zM1148 669h1v1h-1zM1149 668h1v1h-1zM1152 666h1v1h-1zM1153 665h1v1h-1zM1154 664h1v1h-1zM1163 667h1v1h-1zM1164 665h1v2h-1zM1165 664h1v1h-1zM1166 663h1v1h-1zM1167 661h1v2h-1zM1168 660h1v1h-1zM1169 659h1v1h-1zM1170 657h1v2h-1zM1171 656h1v1h-1zM1230 652h1v1h-1zM1244 652h1v1h-1zM1245 653h1v2h-1zM1246 655h1v1h-1zM1247 656h1v1h-1zM1248 657h1v1h-1zM1249 658h1v2h-1zM1250 660h1v1h-1zM1259 660h1v1h-1zM1260 658h1v2h-1zM1261 657h1v1h-1zM1262 656h1v1h-1zM1263 654h1v2h-1zM1264 653h1v1h-1zM1265 652h1v1h-1zM1266 650h1v2h-1zM1267 649h1v1h-1zM1268 650h1v1h-1zM1269 651h1v1h-1zM1270 652h1v1h-1zM1271 653h1v2h-1zM1272 655h1v1h-1zM1273 656h1v1h-1zM1324 658h1v1h-1zM1325 657h1v1h-1zM1326 656h1v1h-1zM1327 654h1v2h-1zM1328 653h1v1h-1zM1329 652h1v1h-1zM1330 651h1v1h-1z"/>
</g>
<text class="ax" x="1680.0" y="81.5" textLength="38.0" lengthAdjust="spacingAndGlyphs">3918.0</text>
<text class="ax" x="1680.0" y="130.5" textLength="38.0" lengthAdjust="spacingAndGlyphs">3875.0</text>
<text class="ax" x="1680.0" y="228.5" textLength="38.0" lengthAdjust="spacingAndGlyphs">3788.5</text>
<text class="ax" x="1680.0" y="277.5" textLength="38.0" lengthAdjust="spacingAndGlyphs">3745.0</text>
<text class="ax" x="1680.0" y="326.5" textLength="38.0" lengthAdjust="spacingAndGlyphs">3702.0</text>
<text class="ax" x="1680.0" y="375.5" textLength="38.0" lengthAdjust="spacingAndGlyphs">3659.0</text>
<text class="ax" x="1680.0" y="424.5" textLength="38.0" lengthAdjust="spacingAndGlyphs">3615.5</text>
<text class="ax" x="1680.0" y="473.5" textLength="38.0" lengthAdjust="spacingAndGlyphs">3572.5</text>
<text class="ax" x="1680.0" y="522.5" textLength="38.0" lengthAdjust="spacingAndGlyphs">3529.0</text>
<text class="ax" x="1677.0" y="553.0" textLength="31.0" lengthAdjust="spacingAndGlyphs">61.86</text>
<text class="ax" x="1677.0" y="567.0" textLength="24.5" lengthAdjust="spacingAndGlyphs">0.00</text>
<text class="ax" x="1677.0" y="597.3" textLength="42.0" lengthAdjust="spacingAndGlyphs">-105.92</text>
<text class="ax" x="1677.0" y="616.0" textLength="20.0" lengthAdjust="spacingAndGlyphs">100</text>
<text class="ax" x="1677.0" y="646.0" textLength="13.5" lengthAdjust="spacingAndGlyphs">70</text>
<text class="ax" x="1677.0" y="697.0" textLength="13.5" lengthAdjust="spacingAndGlyphs">30</text>
<text class="ax" x="1677.0" y="727.0" textLength="6.5" lengthAdjust="spacingAndGlyphs">0</text>
<g shape-rendering="crispEdges">
<rect x="1675" y="64" width="49" height="14" fill="#ff0000"/>
<rect x="1675" y="130" width="49" height="14" fill="#ff0000"/>
<rect x="1675" y="307" width="49" height="14" fill="#00ff7f"/>
<rect x="1675" y="402" width="49" height="14" fill="#0000ff"/>
<rect x="1675" y="493" width="49" height="14" fill="#0000ff"/>
<rect x="1675" y="169" width="49" height="14" fill="#000"/>
</g>
<text class="lb" x="1680.0" y="75.5" textLength="38.0" lengthAdjust="spacingAndGlyphs">3924.0</text>
<text class="lb" x="1680.0" y="141.5" textLength="38.0" lengthAdjust="spacingAndGlyphs">3866.5</text>
<text class="lb" x="1680.0" y="180.5" textLength="38.0" lengthAdjust="spacingAndGlyphs">3831.2</text>
<text class="lb" x="1680.0" y="318.5" textLength="38.0" lengthAdjust="spacingAndGlyphs">3710.0</text>
<text class="lb" x="1680.0" y="413.5" textLength="38.0" lengthAdjust="spacingAndGlyphs">3626.0</text>
<text class="lb" x="1680.0" y="504.5" textLength="38.0" lengthAdjust="spacingAndGlyphs">3546.0</text>
<text class="ax" x="8.4" y="746.0" textLength="64.6" lengthAdjust="spacingAndGlyphs">7 May 2019</text>
<text class="ax" x="104.4" y="746.0" textLength="74.9" lengthAdjust="spacingAndGlyphs">15 May 05:00</text>
<text class="ax" x="200.4" y="746.0" textLength="74.9" lengthAdjust="spacingAndGlyphs">23 May 05:00</text>
<text class="ax" x="296.4" y="746.0" textLength="74.9" lengthAdjust="spacingAndGlyphs">31 May 05:00</text>
<text class="ax" x="392.4" y="746.0" textLength="72.5" lengthAdjust="spacingAndGlyphs">11 Jun 05:00</text>
<text class="ax" x="488.4" y="746.0" textLength="72.2" lengthAdjust="spacingAndGlyphs">19 Jun 05:00</text>
<text class="ax" x="584.4" y="746.0" textLength="72.5" lengthAdjust="spacingAndGlyphs">27 Jun 05:00</text>
<text class="ax" x="680.4" y="746.0" textLength="60.7" lengthAdjust="spacingAndGlyphs">5 Jul 05:00</text>
<text class="ax" x="776.4" y="746.0" textLength="67.0" lengthAdjust="spacingAndGlyphs">15 Jul 05:00</text>
<text class="ax" x="872.4" y="746.0" textLength="67.4" lengthAdjust="spacingAndGlyphs">23 Jul 05:00</text>
<text class="ax" x="968.4" y="746.0" textLength="67.4" lengthAdjust="spacingAndGlyphs">31 Jul 05:00</text>
<text class="ax" x="1064.4" y="746.0" textLength="66.0" lengthAdjust="spacingAndGlyphs">8 Aug 05:00</text>
<text class="ax" x="1160.4" y="746.0" textLength="72.9" lengthAdjust="spacingAndGlyphs">16 Aug 05:00</text>
<text class="ax" x="1256.4" y="746.0" textLength="72.9" lengthAdjust="spacingAndGlyphs">26 Aug 05:00</text>
<text class="ax" x="27.7" y="59.0" textLength="256.0" lengthAdjust="spacingAndGlyphs">CHINA300-,H4&#160;&#160;3837.0 3856.1 3830.7 3831.2</text>
<path d="M12.8 57 H22.7 L17.750 51.8 Z" fill="#000"/>
<text class="ax" x="13.5" y="555.0" textLength="157.5" lengthAdjust="spacingAndGlyphs">MACD(12,26,9) 23.53 22.56</text>
<text class="ax" x="13.5" y="618.0" textLength="92.0" lengthAdjust="spacingAndGlyphs">RSI(14) 61.5671</text>
<text y="383.9" fill="#ff2414" font-family='"Liberation Sans","Noto Sans CJK SC",sans-serif'><tspan x="1247.5" font-size="53" textLength="253" lengthAdjust="spacingAndGlyphs">多空转折点</tspan><tspan x="1500.5" y="380.5" font-size="52.5" textLength="116" lengthAdjust="spacingAndGlyphs">3710</tspan></text>
<g shape-rendering="crispEdges">
<rect x="11" y="66" width="287" height="78" fill="#ffffff"/>
<rect x="13" y="67" width="68" height="27" fill="#b80808"/>
<rect x="228" y="67" width="68" height="27" fill="#b80808"/>
<rect x="14" y="68" width="66" height="26" fill="url(#gt)"/>
<rect x="229" y="68" width="66" height="26" fill="url(#gt)"/>
<rect x="13" y="94" width="141" height="49" fill="url(#gd)"/>
<rect x="156" y="94" width="140" height="49" fill="url(#gd)"/>
<rect x="14" y="94" width="139" height="49" fill="url(#gm)"/>
<rect x="157" y="94" width="138" height="49" fill="url(#gm)"/>
<rect x="81" y="94" width="72" height="1" fill="#b80808"/>
<rect x="157" y="94" width="71" height="1" fill="#b80808"/>
<rect x="154" y="94" width="2" height="49" fill="#ffffff"/>
<rect x="17" y="93" width="60" height="1" fill="#f08080"/>
<rect x="232" y="93" width="60" height="1" fill="#f08080"/>
<rect x="83" y="67" width="144" height="26" fill="#ffffff" stroke="#b4b4b4" stroke-width="1"/>
<rect x="84.5" y="68.5" width="21" height="23" fill="url(#gb)" stroke="#bcbcbc" stroke-width="1"/>
<rect x="107" y="68" width="1" height="24" fill="#b0b0b8"/>
<rect x="201" y="68" width="1" height="24" fill="#b0b0b8"/>
<rect x="202.5" y="68.5" width="22" height="23" fill="url(#gb)" stroke="#bcbcbc" stroke-width="1"/>
</g>
<path d="M92 78 H99 L95.5 82 Z" fill="#4a62c8"/>
<path d="M210 81.5 H217 L213.5 77.5 Z" fill="#4a62c8"/>
<text x="30" y="86" font-size="15" fill="#fff" textLength="33.5" lengthAdjust="spacingAndGlyphs">SELL</text>
<text x="247.2" y="86" font-size="15" fill="#fff" textLength="28" lengthAdjust="spacingAndGlyphs">BUY</text>
<text x="167" y="84.7" font-size="15.5" fill="#101030" textLength="31.5" lengthAdjust="spacingAndGlyphs">1.00</text>
<text x="43.2" y="131.5" font-size="14" font-weight="bold" fill="#fff" textLength="36" lengthAdjust="spacingAndGlyphs">3829</text>
<text x="185.2" y="131.5" font-size="14" font-weight="bold" fill="#fff" textLength="36" lengthAdjust="spacingAndGlyphs">3835</text>
<text x="83.3" y="131.8" font-size="29" font-weight="bold" fill="#fff">.</text>
<text x="226.2" y="131.8" font-size="29" font-weight="bold" fill="#fff">.</text>
<text x="90.8" y="131.5" font-size="42" fill="#fff" textLength="23.3" lengthAdjust="spacingAndGlyphs">7</text>
<text x="234.8" y="131.5" font-size="41" fill="#fff" textLength="22" lengthAdjust="spacingAndGlyphs">3</text>
</svg>
</body></html>
